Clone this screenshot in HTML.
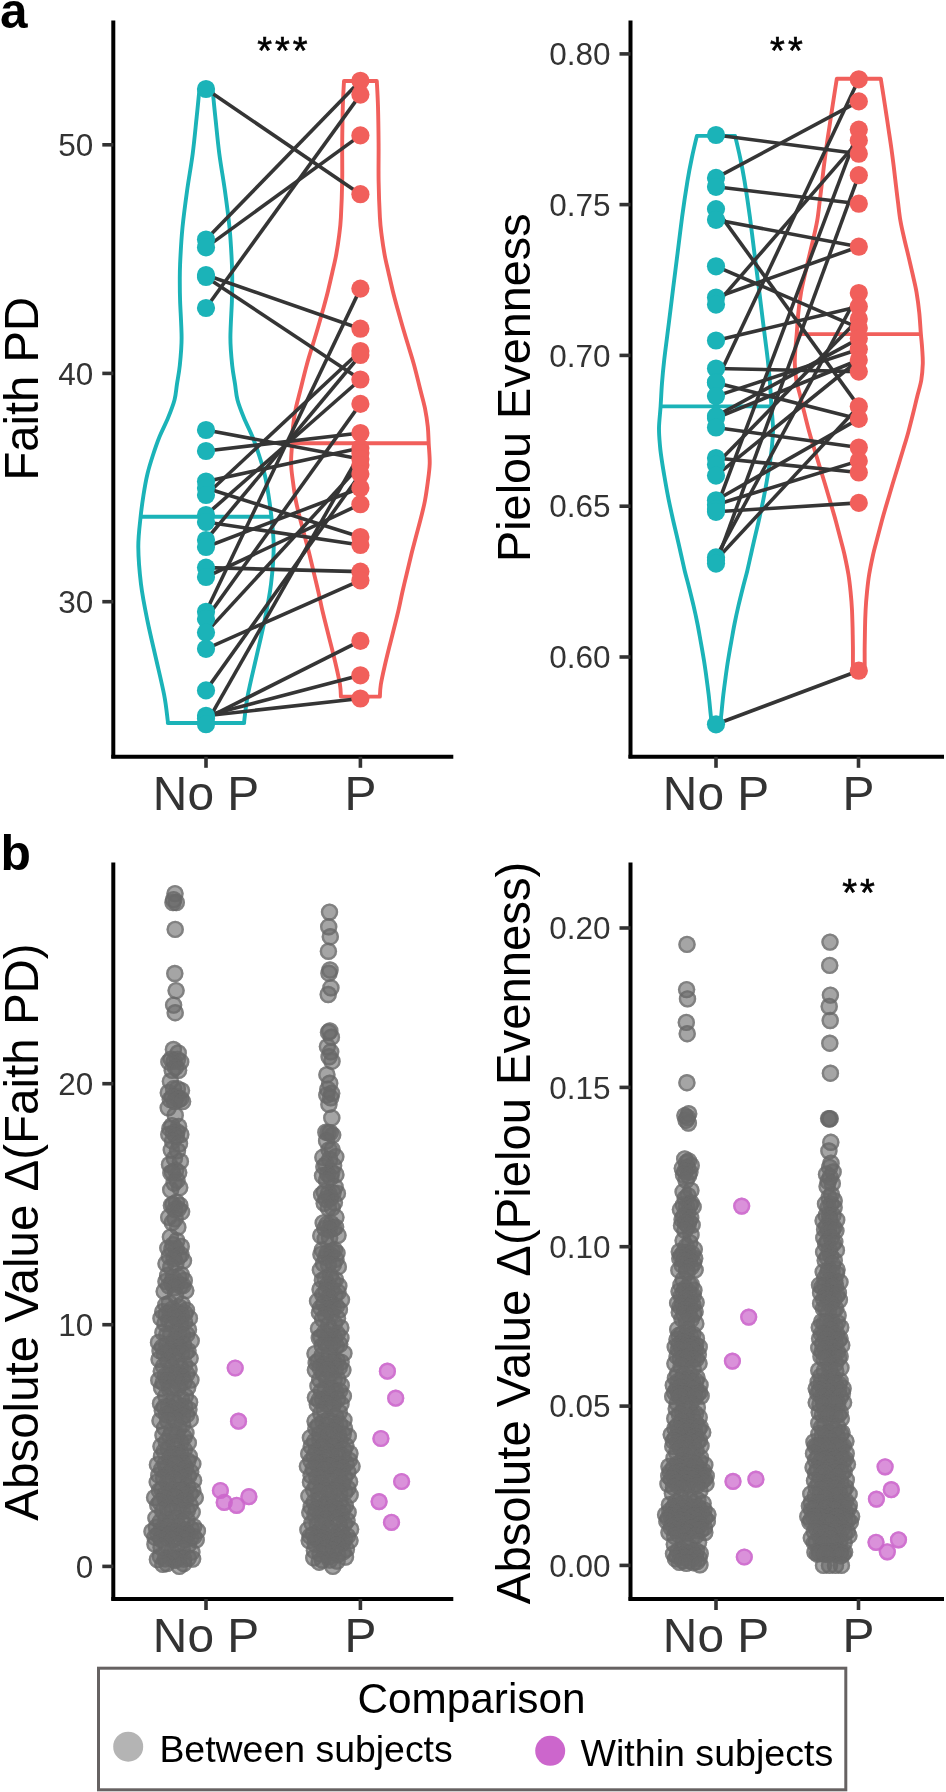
<!DOCTYPE html>
<html><head><meta charset="utf-8"><style>
html,body{margin:0;padding:0;background:#fff;}
svg{display:block;will-change:transform;}
</style></head><body>
<svg width="946" height="1792" viewBox="0 0 946 1792" font-family="Liberation Sans, sans-serif">
<rect width="946" height="1792" fill="#fff"/>
<line x1="113.3" y1="20.5" x2="113.3" y2="758.3" stroke="#000" stroke-width="4"/>
<line x1="111.3" y1="756.8" x2="453.3" y2="756.8" stroke="#000" stroke-width="4"/>
<line x1="102.3" y1="144.8" x2="113.3" y2="144.8" stroke="#333" stroke-width="3.6"/>
<text x="93.3" y="156" text-anchor="end" font-size="31.5" fill="#333">50</text>
<line x1="102.3" y1="373.4" x2="113.3" y2="373.4" stroke="#333" stroke-width="3.6"/>
<text x="93.3" y="384.6" text-anchor="end" font-size="31.5" fill="#333">40</text>
<line x1="102.3" y1="601.7" x2="113.3" y2="601.7" stroke="#333" stroke-width="3.6"/>
<text x="93.3" y="612.9" text-anchor="end" font-size="31.5" fill="#333">30</text>
<line x1="206" y1="756.8" x2="206" y2="767.8" stroke="#333" stroke-width="3.6"/>
<text x="206" y="809.8" text-anchor="middle" font-size="47.8" fill="#333">No P</text>
<line x1="360.4" y1="756.8" x2="360.4" y2="767.8" stroke="#333" stroke-width="3.6"/>
<text x="360.4" y="809.8" text-anchor="middle" font-size="47.8" fill="#333">P</text>
<line x1="630.5" y1="20.5" x2="630.5" y2="758.3" stroke="#000" stroke-width="4"/>
<line x1="628.5" y1="756.8" x2="944" y2="756.8" stroke="#000" stroke-width="4"/>
<line x1="619.5" y1="53.9" x2="630.5" y2="53.9" stroke="#333" stroke-width="3.6"/>
<text x="610.5" y="65.1" text-anchor="end" font-size="31.5" fill="#333">0.80</text>
<line x1="619.5" y1="204.6" x2="630.5" y2="204.6" stroke="#333" stroke-width="3.6"/>
<text x="610.5" y="215.8" text-anchor="end" font-size="31.5" fill="#333">0.75</text>
<line x1="619.5" y1="355.4" x2="630.5" y2="355.4" stroke="#333" stroke-width="3.6"/>
<text x="610.5" y="366.6" text-anchor="end" font-size="31.5" fill="#333">0.70</text>
<line x1="619.5" y1="506.2" x2="630.5" y2="506.2" stroke="#333" stroke-width="3.6"/>
<text x="610.5" y="517.4" text-anchor="end" font-size="31.5" fill="#333">0.65</text>
<line x1="619.5" y1="657" x2="630.5" y2="657" stroke="#333" stroke-width="3.6"/>
<text x="610.5" y="668.2" text-anchor="end" font-size="31.5" fill="#333">0.60</text>
<line x1="716" y1="756.8" x2="716" y2="767.8" stroke="#333" stroke-width="3.6"/>
<text x="716" y="809.8" text-anchor="middle" font-size="47.8" fill="#333">No P</text>
<line x1="858.5" y1="756.8" x2="858.5" y2="767.8" stroke="#333" stroke-width="3.6"/>
<text x="858.5" y="809.8" text-anchor="middle" font-size="47.8" fill="#333">P</text>
<line x1="113.3" y1="862.6" x2="113.3" y2="1600.5" stroke="#000" stroke-width="4"/>
<line x1="111.3" y1="1599" x2="453.3" y2="1599" stroke="#000" stroke-width="4"/>
<line x1="102.3" y1="1083.7" x2="113.3" y2="1083.7" stroke="#333" stroke-width="3.6"/>
<text x="93.3" y="1094.9" text-anchor="end" font-size="31.5" fill="#333">20</text>
<line x1="102.3" y1="1324.7" x2="113.3" y2="1324.7" stroke="#333" stroke-width="3.6"/>
<text x="93.3" y="1335.9" text-anchor="end" font-size="31.5" fill="#333">10</text>
<line x1="102.3" y1="1566.4" x2="113.3" y2="1566.4" stroke="#333" stroke-width="3.6"/>
<text x="93.3" y="1577.6" text-anchor="end" font-size="31.5" fill="#333">0</text>
<line x1="206" y1="1599" x2="206" y2="1610" stroke="#333" stroke-width="3.6"/>
<text x="206" y="1652" text-anchor="middle" font-size="47.8" fill="#333">No P</text>
<line x1="360.4" y1="1599" x2="360.4" y2="1610" stroke="#333" stroke-width="3.6"/>
<text x="360.4" y="1652" text-anchor="middle" font-size="47.8" fill="#333">P</text>
<line x1="630.5" y1="862.6" x2="630.5" y2="1600.5" stroke="#000" stroke-width="4"/>
<line x1="628.5" y1="1599" x2="944" y2="1599" stroke="#000" stroke-width="4"/>
<line x1="619.5" y1="928" x2="630.5" y2="928" stroke="#333" stroke-width="3.6"/>
<text x="610.5" y="939.2" text-anchor="end" font-size="31.5" fill="#333">0.20</text>
<line x1="619.5" y1="1087.4" x2="630.5" y2="1087.4" stroke="#333" stroke-width="3.6"/>
<text x="610.5" y="1098.6" text-anchor="end" font-size="31.5" fill="#333">0.15</text>
<line x1="619.5" y1="1246.7" x2="630.5" y2="1246.7" stroke="#333" stroke-width="3.6"/>
<text x="610.5" y="1257.9" text-anchor="end" font-size="31.5" fill="#333">0.10</text>
<line x1="619.5" y1="1406.1" x2="630.5" y2="1406.1" stroke="#333" stroke-width="3.6"/>
<text x="610.5" y="1417.3" text-anchor="end" font-size="31.5" fill="#333">0.05</text>
<line x1="619.5" y1="1565.4" x2="630.5" y2="1565.4" stroke="#333" stroke-width="3.6"/>
<text x="610.5" y="1576.6" text-anchor="end" font-size="31.5" fill="#333">0.00</text>
<line x1="716" y1="1599" x2="716" y2="1610" stroke="#333" stroke-width="3.6"/>
<text x="716" y="1652" text-anchor="middle" font-size="47.8" fill="#333">No P</text>
<line x1="858.5" y1="1599" x2="858.5" y2="1610" stroke="#333" stroke-width="3.6"/>
<text x="858.5" y="1652" text-anchor="middle" font-size="47.8" fill="#333">P</text>
<text transform="translate(37.9,388.8) rotate(-90)" text-anchor="middle" font-size="47.2" fill="#000">Faith PD</text>
<text transform="translate(529.9,387.7) rotate(-90)" text-anchor="middle" font-size="46.8" fill="#000">Pielou Evenness</text>
<text transform="translate(38.2,1232) rotate(-90)" text-anchor="middle" font-size="47.5" fill="#000">Absolute Value &#916;(Faith PD)</text>
<text transform="translate(529.9,1232.9) rotate(-90)" text-anchor="middle" font-size="47.25" fill="#000">Absolute Value &#916;(Pielou Evenness)</text>
<text x="0" y="28.4" font-size="49.5" font-weight="bold" fill="#000">a</text>
<text x="0.5" y="869.8" font-size="49.8" font-weight="bold" fill="#000">b</text>
<text x="257.3" y="63.8" font-size="38" fill="#000" stroke="#000" stroke-width="0.6">*</text>
<text x="275.1" y="63.8" font-size="38" fill="#000" stroke="#000" stroke-width="0.6">*</text>
<text x="292.8" y="63.8" font-size="38" fill="#000" stroke="#000" stroke-width="0.6">*</text>
<text x="770.1" y="63.8" font-size="38" fill="#000" stroke="#000" stroke-width="0.6">*</text>
<text x="788" y="63.8" font-size="38" fill="#000" stroke="#000" stroke-width="0.6">*</text>
<text x="842.2" y="906.1" font-size="38" fill="#000" stroke="#000" stroke-width="0.6">*</text>
<text x="860.1" y="906.1" font-size="38" fill="#000" stroke="#000" stroke-width="0.6">*</text>
<path d="M199.5,90 C199.4,90.5 199.6,88.4 199.1,92.9 C198.6,97.4 197.8,106.7 196.7,116.8 C195.6,126.9 194.3,141.4 192.7,153.7 C191.1,166 188.8,178.2 187.1,190.5 C185.4,202.8 183.7,215.1 182.5,227.4 C181.3,239.7 180.5,255 180.1,264.2 C179.7,273.4 179.8,276.5 179.8,282.6 C179.8,288.7 179.8,291.8 180.1,301 C180.4,310.2 181.6,327.1 181.6,337.8 C181.6,348.5 180.6,357.7 179.8,365.4 C179,373.1 177.9,378.1 177,383.9 C176.1,389.7 176,394.3 174.5,400 C173,405.7 170.5,411.9 168,418 C165.5,424.1 162,430.6 159.5,436.8 C157,443 155,448.9 153,455 C151,461.1 149.1,467 147.5,473.7 C145.9,480.4 144.6,487.9 143.5,495 C142.4,502.1 141.6,507.3 140.7,516 C139.8,524.7 138.2,535.9 138.3,547.3 C138.4,558.7 139.5,571.9 141,584.2 C142.5,596.5 145,608.7 147.5,621 C150,633.3 153,645.5 155.8,657.8 C158.6,670.1 162.1,684.4 164.1,694.7 C166.1,705 167,714.8 167.6,719.5 C168.2,724.2 167.8,722.4 167.8,723 L244.2,723 C244.2,722.4 243.8,724.2 244.4,719.5 C245,714.8 245.9,705 247.9,694.7 C249.9,684.4 253.4,670.1 256.2,657.8 C259,645.5 262,633.3 264.5,621 C267,608.7 269.5,596.5 271,584.2 C272.5,571.9 273.6,558.7 273.7,547.3 C273.8,535.9 272.2,524.7 271.3,516 C270.4,507.3 269.6,502.1 268.5,495 C267.4,487.9 266.1,480.4 264.5,473.7 C262.9,467 261,461.1 259,455 C257,448.9 255,443 252.5,436.8 C250,430.6 246.5,424.1 244,418 C241.5,411.9 239,405.7 237.5,400 C236,394.3 235.9,389.7 235,383.9 C234.1,378.1 233,373.1 232.2,365.4 C231.4,357.7 230.4,348.5 230.4,337.8 C230.4,327.1 231.6,310.2 231.9,301 C232.2,291.8 232.2,288.7 232.2,282.6 C232.2,276.5 232.3,273.4 231.9,264.2 C231.5,255 230.7,239.7 229.5,227.4 C228.3,215.1 226.6,202.8 224.9,190.5 C223.2,178.2 220.9,166 219.3,153.7 C217.7,141.4 216.4,126.9 215.3,116.8 C214.2,106.7 213.4,97.4 212.9,92.9 C212.4,88.4 212.6,90.5 212.5,90 Z" fill="none" stroke="#1bb3b8" stroke-width="3.9" stroke-linejoin="round"/>
<line x1="140.6" y1="516.7" x2="271.4" y2="516.7" stroke="#1bb3b8" stroke-width="3.9"/>
<path d="M344,81 C343.8,85.3 343.1,96.3 342.8,106.8 C342.5,117.2 342.3,131.4 342.2,143.7 C342.1,156 342.4,168.2 342.2,180.5 C342,192.8 341.4,208.2 340.9,217.3 C340.4,226.4 340,228.8 339.2,235 C338.4,241.2 337.4,248 336.3,254.2 C335.2,260.4 333.8,265.9 332.4,272 C331,278.1 329.5,284.8 328,291 C326.5,297.2 324.9,302.9 323.2,309 C321.5,315.1 319.7,321.6 317.9,327.8 C316.1,334 314.2,339.9 312.4,346 C310.5,352.1 308.8,357.4 306.8,364.7 C304.8,372 302.2,382.7 300.4,390 C298.6,397.3 297,402.3 295.8,408.4 C294.6,414.5 293.6,421 293,426.8 C292.4,432.6 292.4,437.2 292.1,443.4 C291.8,449.5 290.9,457.3 291.1,463.7 C291.2,470.1 292.2,475.9 293,482 C293.8,488.1 294.6,494.5 295.8,500.5 C296.9,506.5 298.4,511.9 299.9,518 C301.4,524.1 303.4,531.1 305,537.3 C306.6,543.5 308.1,548.9 309.6,555 C311.1,561.1 312.7,568 314.2,574.2 C315.7,580.4 317,585.9 318.4,592 C319.8,598.1 321,604.7 322.5,611 C324,617.3 325.7,623.9 327.2,630 C328.7,636.1 330.2,641.8 331.7,647.8 C333.2,653.8 334.7,659.9 336.1,666 C337.5,672.1 339.2,679.6 340,684.7 C340.8,689.8 340.8,694.6 340.9,696.6 L379.9,696.6 C380,694.6 380,689.8 380.8,684.7 C381.6,679.6 383.3,672.1 384.7,666 C386.1,659.9 387.6,653.8 389.1,647.8 C390.6,641.8 392.1,636.1 393.6,630 C395.1,623.9 396.8,617.3 398.3,611 C399.8,604.7 401,598.1 402.4,592 C403.8,585.9 405.1,580.4 406.6,574.2 C408.1,568 409.7,561.1 411.2,555 C412.7,548.9 414.2,543.5 415.8,537.3 C417.4,531.1 419.4,524.1 420.9,518 C422.4,511.9 423.9,506.5 425,500.5 C426.1,494.5 427,488.1 427.8,482 C428.6,475.9 429.5,470.1 429.7,463.7 C429.9,457.3 429,449.5 428.7,443.4 C428.4,437.2 428.4,432.6 427.8,426.8 C427.2,421 426.2,414.5 425,408.4 C423.8,402.3 422.2,397.3 420.4,390 C418.6,382.7 416,372 414,364.7 C412,357.4 410.2,352.1 408.4,346 C406.5,339.9 404.7,334 402.9,327.8 C401.1,321.6 399.3,315.1 397.6,309 C395.9,302.9 394.3,297.2 392.8,291 C391.3,284.8 389.8,278.1 388.4,272 C387,265.9 385.6,260.4 384.5,254.2 C383.4,248 382.4,241.2 381.6,235 C380.8,228.8 380.4,226.4 379.9,217.3 C379.4,208.2 378.8,192.8 378.6,180.5 C378.4,168.2 378.7,156 378.6,143.7 C378.5,131.4 378.3,117.2 378,106.8 C377.7,96.3 377,85.3 376.8,81 Z" fill="none" stroke="#f15f5b" stroke-width="3.9" stroke-linejoin="round"/>
<line x1="292.1" y1="443.2" x2="428.7" y2="443.2" stroke="#f15f5b" stroke-width="3.9"/>
<line x1="206.0" y1="89" x2="360.4" y2="194.2" stroke="#353535" stroke-width="3.6"/>
<line x1="206.0" y1="239.5" x2="360.4" y2="80.8" stroke="#353535" stroke-width="3.6"/>
<line x1="206.0" y1="247.4" x2="360.4" y2="135.4" stroke="#353535" stroke-width="3.6"/>
<line x1="206.0" y1="275" x2="360.4" y2="328.7" stroke="#353535" stroke-width="3.6"/>
<line x1="206.0" y1="277" x2="360.4" y2="379.5" stroke="#353535" stroke-width="3.6"/>
<line x1="206.0" y1="308" x2="360.4" y2="94.6" stroke="#353535" stroke-width="3.6"/>
<line x1="206.0" y1="430" x2="360.4" y2="459" stroke="#353535" stroke-width="3.6"/>
<line x1="206.0" y1="451" x2="360.4" y2="433" stroke="#353535" stroke-width="3.6"/>
<line x1="206.0" y1="481.5" x2="360.4" y2="448" stroke="#353535" stroke-width="3.6"/>
<line x1="206.0" y1="495" x2="360.4" y2="351" stroke="#353535" stroke-width="3.6"/>
<line x1="206.0" y1="540" x2="360.4" y2="355" stroke="#353535" stroke-width="3.6"/>
<line x1="206.0" y1="515" x2="360.4" y2="379.5" stroke="#353535" stroke-width="3.6"/>
<line x1="206.0" y1="618.9" x2="360.4" y2="403.9" stroke="#353535" stroke-width="3.6"/>
<line x1="206.0" y1="611.8" x2="360.4" y2="288.6" stroke="#353535" stroke-width="3.6"/>
<line x1="206.0" y1="724.2" x2="360.4" y2="453" stroke="#353535" stroke-width="3.6"/>
<line x1="206.0" y1="690.4" x2="360.4" y2="474" stroke="#353535" stroke-width="3.6"/>
<line x1="206.0" y1="547" x2="360.4" y2="488" stroke="#353535" stroke-width="3.6"/>
<line x1="206.0" y1="577" x2="360.4" y2="504.2" stroke="#353535" stroke-width="3.6"/>
<line x1="206.0" y1="488" x2="360.4" y2="537" stroke="#353535" stroke-width="3.6"/>
<line x1="206.0" y1="522" x2="360.4" y2="545" stroke="#353535" stroke-width="3.6"/>
<line x1="206.0" y1="567.6" x2="360.4" y2="571.6" stroke="#353535" stroke-width="3.6"/>
<line x1="206.0" y1="648.8" x2="360.4" y2="580.4" stroke="#353535" stroke-width="3.6"/>
<line x1="206.0" y1="718.5" x2="360.4" y2="640.9" stroke="#353535" stroke-width="3.6"/>
<line x1="206.0" y1="715.8" x2="360.4" y2="675.3" stroke="#353535" stroke-width="3.6"/>
<line x1="206.0" y1="715.8" x2="360.4" y2="698.5" stroke="#353535" stroke-width="3.6"/>
<line x1="206.0" y1="632.6" x2="360.4" y2="465" stroke="#353535" stroke-width="3.6"/>
<circle cx="206.0" cy="89" r="9.1" fill="#1bb3b8"/>
<circle cx="206.0" cy="239.5" r="9.1" fill="#1bb3b8"/>
<circle cx="206.0" cy="247.4" r="9.1" fill="#1bb3b8"/>
<circle cx="206.0" cy="275" r="9.1" fill="#1bb3b8"/>
<circle cx="206.0" cy="277" r="9.1" fill="#1bb3b8"/>
<circle cx="206.0" cy="308" r="9.1" fill="#1bb3b8"/>
<circle cx="206.0" cy="430" r="9.1" fill="#1bb3b8"/>
<circle cx="206.0" cy="451" r="9.1" fill="#1bb3b8"/>
<circle cx="206.0" cy="481.5" r="9.1" fill="#1bb3b8"/>
<circle cx="206.0" cy="488" r="9.1" fill="#1bb3b8"/>
<circle cx="206.0" cy="495" r="9.1" fill="#1bb3b8"/>
<circle cx="206.0" cy="515" r="9.1" fill="#1bb3b8"/>
<circle cx="206.0" cy="522" r="9.1" fill="#1bb3b8"/>
<circle cx="206.0" cy="540" r="9.1" fill="#1bb3b8"/>
<circle cx="206.0" cy="547" r="9.1" fill="#1bb3b8"/>
<circle cx="206.0" cy="567.6" r="9.1" fill="#1bb3b8"/>
<circle cx="206.0" cy="577" r="9.1" fill="#1bb3b8"/>
<circle cx="206.0" cy="611.8" r="9.1" fill="#1bb3b8"/>
<circle cx="206.0" cy="618.9" r="9.1" fill="#1bb3b8"/>
<circle cx="206.0" cy="632.6" r="9.1" fill="#1bb3b8"/>
<circle cx="206.0" cy="648.8" r="9.1" fill="#1bb3b8"/>
<circle cx="206.0" cy="690.4" r="9.1" fill="#1bb3b8"/>
<circle cx="206.0" cy="715.8" r="9.1" fill="#1bb3b8"/>
<circle cx="206.0" cy="718.5" r="9.1" fill="#1bb3b8"/>
<circle cx="206.0" cy="724.2" r="9.1" fill="#1bb3b8"/>
<circle cx="360.4" cy="80.8" r="9.1" fill="#f15f5b"/>
<circle cx="360.4" cy="94.6" r="9.1" fill="#f15f5b"/>
<circle cx="360.4" cy="135.4" r="9.1" fill="#f15f5b"/>
<circle cx="360.4" cy="194.2" r="9.1" fill="#f15f5b"/>
<circle cx="360.4" cy="288.6" r="9.1" fill="#f15f5b"/>
<circle cx="360.4" cy="328.7" r="9.1" fill="#f15f5b"/>
<circle cx="360.4" cy="351" r="9.1" fill="#f15f5b"/>
<circle cx="360.4" cy="355" r="9.1" fill="#f15f5b"/>
<circle cx="360.4" cy="379.5" r="9.1" fill="#f15f5b"/>
<circle cx="360.4" cy="403.9" r="9.1" fill="#f15f5b"/>
<circle cx="360.4" cy="433" r="9.1" fill="#f15f5b"/>
<circle cx="360.4" cy="448" r="9.1" fill="#f15f5b"/>
<circle cx="360.4" cy="453" r="9.1" fill="#f15f5b"/>
<circle cx="360.4" cy="459" r="9.1" fill="#f15f5b"/>
<circle cx="360.4" cy="465" r="9.1" fill="#f15f5b"/>
<circle cx="360.4" cy="474" r="9.1" fill="#f15f5b"/>
<circle cx="360.4" cy="488" r="9.1" fill="#f15f5b"/>
<circle cx="360.4" cy="504.2" r="9.1" fill="#f15f5b"/>
<circle cx="360.4" cy="537" r="9.1" fill="#f15f5b"/>
<circle cx="360.4" cy="545" r="9.1" fill="#f15f5b"/>
<circle cx="360.4" cy="571.6" r="9.1" fill="#f15f5b"/>
<circle cx="360.4" cy="580.4" r="9.1" fill="#f15f5b"/>
<circle cx="360.4" cy="640.9" r="9.1" fill="#f15f5b"/>
<circle cx="360.4" cy="675.3" r="9.1" fill="#f15f5b"/>
<circle cx="360.4" cy="698.5" r="9.1" fill="#f15f5b"/>
<path d="M696.9,135.9 C696,139.6 693.4,150.4 691.8,158 C690.2,165.6 689,171.6 687.4,181.4 C685.8,191.2 683.7,205.2 682.1,217.1 C680.5,229 679.1,241 677.6,252.9 C676.1,264.8 674.6,276.7 673.1,288.6 C671.6,300.5 670.2,312.4 668.7,324.3 C667.2,336.2 665.3,350.2 664.2,360 C663.1,369.8 662.6,375.3 662,383 C661.4,390.7 661.1,398.9 660.6,406.4 C660.1,413.9 659.1,421.4 659,428 C658.9,434.6 659.5,440.1 660,446 C660.5,451.9 661.4,457.8 662.3,463.6 C663.2,469.4 664.2,475.1 665.2,481 C666.2,486.9 667.4,493.3 668.6,499.3 C669.8,505.3 671.1,511.1 672.4,517 C673.7,523 675.2,529 676.6,535 C678,541 679.4,547 680.7,553 C682.1,559 683.3,564.9 684.7,570.7 C686.1,576.5 687.7,582 689.2,588 C690.7,594 692.3,600.4 693.7,606.4 C695.1,612.4 696.3,618 697.5,624 C698.7,630 699.7,636.1 700.8,642.1 C701.9,648.1 702.9,654 703.9,660 C704.9,666 705.7,672.1 706.5,677.9 C707.3,683.7 708,689 708.7,695 C709.4,701 710.1,708.7 710.6,713.6 C711.1,718.5 711.6,722.5 711.8,724.3 L720.2,724.3 C720.4,722.5 720.9,718.5 721.4,713.6 C721.9,708.7 722.6,701 723.3,695 C724,689 724.7,683.7 725.5,677.9 C726.3,672.1 727.1,666 728.1,660 C729.1,654 730.1,648.1 731.2,642.1 C732.3,636.1 733.3,630 734.5,624 C735.7,618 736.9,612.4 738.3,606.4 C739.7,600.4 741.3,594 742.8,588 C744.3,582 745.9,576.5 747.3,570.7 C748.7,564.9 749.9,559 751.3,553 C752.6,547 754,541 755.4,535 C756.8,529 758.3,523 759.6,517 C760.9,511.1 762.2,505.3 763.4,499.3 C764.6,493.3 765.8,486.9 766.8,481 C767.8,475.1 768.8,469.4 769.7,463.6 C770.6,457.8 771.5,451.9 772,446 C772.5,440.1 773.1,434.6 773,428 C772.9,421.4 771.9,413.9 771.4,406.4 C770.9,398.9 770.6,390.7 770,383 C769.4,375.3 768.9,369.8 767.8,360 C766.7,350.2 764.8,336.2 763.3,324.3 C761.8,312.4 760.4,300.5 758.9,288.6 C757.4,276.7 755.9,264.8 754.4,252.9 C752.9,241 751.5,229 749.9,217.1 C748.3,205.2 746.2,191.2 744.6,181.4 C743,171.6 741.8,165.6 740.2,158 C738.6,150.4 736,139.6 735.1,135.9 Z" fill="none" stroke="#1bb3b8" stroke-width="3.9" stroke-linejoin="round"/>
<line x1="660.6" y1="406.4" x2="771.4" y2="406.4" stroke="#1bb3b8" stroke-width="3.9"/>
<path d="M836.8,78.8 C836.3,81.7 835,90.2 834.1,96 C833.2,101.8 832.3,107.8 831.4,113.6 C830.5,119.4 829.7,125 828.8,131 C827.9,136.9 826.9,143.3 826.1,149.3 C825.3,155.3 824.5,161.1 823.8,167 C823.1,172.9 822.4,179 821.7,185 C821,191 820.2,197.1 819.5,203 C818.8,208.9 818.2,214.9 817.2,220.7 C816.2,226.5 814.9,232.1 813.5,238 C812.1,243.9 810.5,250.4 809.1,256.4 C807.7,262.4 806.3,268.1 805,274 C803.7,279.9 802.2,285.6 801.1,292.1 C800,298.6 799,306 798.3,313 C797.6,320 797.2,328.1 796.7,334.1 C796.2,340.1 795.7,344.1 795.4,349 C795.1,353.9 794.6,358.4 794.8,363.6 C794.9,368.8 795.4,374.6 796.3,380 C797.2,385.4 798.8,390.2 800.2,395.7 C801.5,401.2 802.9,407.1 804.4,413 C805.9,418.9 807.4,425.4 809.1,431.4 C810.7,437.4 812.5,443.1 814.3,449 C816.1,454.9 818,461.1 819.8,467.1 C821.6,473.1 823.5,479 825.3,485 C827.1,491 828.8,496.9 830.6,502.9 C832.3,508.9 834.2,515 835.8,521 C837.4,527 838.9,532.8 840.4,538.6 C841.9,544.4 843.5,550 844.8,556 C846.1,562 847.4,568.3 848.4,574.3 C849.4,580.3 850,586 850.6,592 C851.2,598 851.7,604 852,610 C852.3,616 852.4,622 852.6,628 C852.7,634 852.8,639.4 852.9,645.7 C853,652 852.9,662.6 852.9,666 L864.7,666 C864.7,662.6 864.6,652 864.7,645.7 C864.8,639.4 864.9,634 865,628 C865.1,622 865.3,616 865.6,610 C865.9,604 866.4,598 867,592 C867.6,586 868.2,580.3 869.2,574.3 C870.2,568.3 871.5,562 872.8,556 C874.1,550 875.7,544.4 877.2,538.6 C878.7,532.8 880.2,527 881.8,521 C883.4,515 885.2,508.9 887,502.9 C888.8,496.9 890.5,491 892.3,485 C894.1,479 896,473.1 897.8,467.1 C899.6,461.1 901.5,454.9 903.3,449 C905.1,443.1 906.9,437.4 908.5,431.4 C910.1,425.4 911.7,418.9 913.2,413 C914.7,407.1 916,401.2 917.4,395.7 C918.8,390.2 920.4,385.4 921.3,380 C922.2,374.6 922.6,368.8 922.8,363.6 C922.9,358.4 922.5,353.9 922.2,349 C921.9,344.1 921.4,340.1 920.9,334.1 C920.4,328.1 920,320 919.3,313 C918.6,306 917.6,298.6 916.5,292.1 C915.4,285.6 913.9,279.9 912.6,274 C911.3,268.1 909.9,262.4 908.5,256.4 C907.1,250.4 905.4,243.9 904.1,238 C902.7,232.1 901.4,226.5 900.4,220.7 C899.4,214.9 898.8,208.9 898.1,203 C897.3,197.1 896.6,191 895.9,185 C895.2,179 894.5,172.9 893.8,167 C893.1,161.1 892.3,155.3 891.5,149.3 C890.7,143.3 889.7,136.9 888.8,131 C887.9,125 887.1,119.4 886.2,113.6 C885.3,107.8 884.4,101.8 883.5,96 C882.6,90.2 881.2,81.7 880.8,78.8 Z" fill="none" stroke="#f15f5b" stroke-width="3.9" stroke-linejoin="round"/>
<line x1="796.7" y1="334.1" x2="920.9" y2="334.1" stroke="#f15f5b" stroke-width="3.9"/>
<line x1="716.0" y1="135" x2="858.8" y2="153.7" stroke="#353535" stroke-width="3.6"/>
<line x1="716.0" y1="177.9" x2="858.8" y2="101.4" stroke="#353535" stroke-width="3.6"/>
<line x1="716.0" y1="186.8" x2="858.8" y2="203.7" stroke="#353535" stroke-width="3.6"/>
<line x1="716.0" y1="219.8" x2="858.8" y2="246.7" stroke="#353535" stroke-width="3.6"/>
<line x1="716.0" y1="297.5" x2="858.8" y2="246.7" stroke="#353535" stroke-width="3.6"/>
<line x1="716.0" y1="304.6" x2="858.8" y2="140.4" stroke="#353535" stroke-width="3.6"/>
<line x1="716.0" y1="382.3" x2="858.8" y2="79.3" stroke="#353535" stroke-width="3.6"/>
<line x1="716.0" y1="209.1" x2="858.8" y2="406.4" stroke="#353535" stroke-width="3.6"/>
<line x1="716.0" y1="266.3" x2="858.8" y2="327.9" stroke="#353535" stroke-width="3.6"/>
<line x1="716.0" y1="340.5" x2="858.8" y2="306.4" stroke="#353535" stroke-width="3.6"/>
<line x1="716.0" y1="368.5" x2="858.8" y2="371.6" stroke="#353535" stroke-width="3.6"/>
<line x1="716.0" y1="724.3" x2="858.8" y2="670.7" stroke="#353535" stroke-width="3.6"/>
<line x1="716.0" y1="563.6" x2="858.8" y2="175.2" stroke="#353535" stroke-width="3.6"/>
<line x1="716.0" y1="511.8" x2="858.8" y2="502.9" stroke="#353535" stroke-width="3.6"/>
<line x1="716.0" y1="500.3" x2="858.8" y2="418.9" stroke="#353535" stroke-width="3.6"/>
<line x1="716.0" y1="504.7" x2="858.8" y2="460.9" stroke="#353535" stroke-width="3.6"/>
<line x1="716.0" y1="458" x2="858.8" y2="472.5" stroke="#353535" stroke-width="3.6"/>
<line x1="716.0" y1="427.5" x2="858.8" y2="447.5" stroke="#353535" stroke-width="3.6"/>
<line x1="716.0" y1="396.1" x2="858.8" y2="349.3" stroke="#353535" stroke-width="3.6"/>
<line x1="716.0" y1="416.1" x2="858.8" y2="338.6" stroke="#353535" stroke-width="3.6"/>
<line x1="716.0" y1="418" x2="858.8" y2="360" stroke="#353535" stroke-width="3.6"/>
<line x1="716.0" y1="475.6" x2="858.8" y2="360" stroke="#353535" stroke-width="3.6"/>
<line x1="716.0" y1="557.4" x2="858.8" y2="293" stroke="#353535" stroke-width="3.6"/>
<line x1="716.0" y1="382.8" x2="858.8" y2="418.9" stroke="#353535" stroke-width="3.6"/>
<line x1="716.0" y1="509" x2="858.8" y2="129.6" stroke="#353535" stroke-width="3.6"/>
<line x1="716.0" y1="560" x2="858.8" y2="406.4" stroke="#353535" stroke-width="3.6"/>
<line x1="716.0" y1="464.6" x2="858.8" y2="318.9" stroke="#353535" stroke-width="3.6"/>
<circle cx="716.0" cy="135" r="9.1" fill="#1bb3b8"/>
<circle cx="716.0" cy="177.9" r="9.1" fill="#1bb3b8"/>
<circle cx="716.0" cy="186.8" r="9.1" fill="#1bb3b8"/>
<circle cx="716.0" cy="209.1" r="9.1" fill="#1bb3b8"/>
<circle cx="716.0" cy="219.8" r="9.1" fill="#1bb3b8"/>
<circle cx="716.0" cy="266.3" r="9.1" fill="#1bb3b8"/>
<circle cx="716.0" cy="297.5" r="9.1" fill="#1bb3b8"/>
<circle cx="716.0" cy="304.6" r="9.1" fill="#1bb3b8"/>
<circle cx="716.0" cy="340.5" r="9.1" fill="#1bb3b8"/>
<circle cx="716.0" cy="368.5" r="9.1" fill="#1bb3b8"/>
<circle cx="716.0" cy="382.3" r="9.1" fill="#1bb3b8"/>
<circle cx="716.0" cy="382.8" r="9.1" fill="#1bb3b8"/>
<circle cx="716.0" cy="396.1" r="9.1" fill="#1bb3b8"/>
<circle cx="716.0" cy="416.1" r="9.1" fill="#1bb3b8"/>
<circle cx="716.0" cy="418" r="9.1" fill="#1bb3b8"/>
<circle cx="716.0" cy="427.5" r="9.1" fill="#1bb3b8"/>
<circle cx="716.0" cy="458" r="9.1" fill="#1bb3b8"/>
<circle cx="716.0" cy="464.6" r="9.1" fill="#1bb3b8"/>
<circle cx="716.0" cy="475.6" r="9.1" fill="#1bb3b8"/>
<circle cx="716.0" cy="500.3" r="9.1" fill="#1bb3b8"/>
<circle cx="716.0" cy="504.7" r="9.1" fill="#1bb3b8"/>
<circle cx="716.0" cy="509" r="9.1" fill="#1bb3b8"/>
<circle cx="716.0" cy="511.8" r="9.1" fill="#1bb3b8"/>
<circle cx="716.0" cy="557.4" r="9.1" fill="#1bb3b8"/>
<circle cx="716.0" cy="560" r="9.1" fill="#1bb3b8"/>
<circle cx="716.0" cy="563.6" r="9.1" fill="#1bb3b8"/>
<circle cx="716.0" cy="724.3" r="9.1" fill="#1bb3b8"/>
<circle cx="858.8" cy="79.3" r="9.1" fill="#f15f5b"/>
<circle cx="858.8" cy="101.4" r="9.1" fill="#f15f5b"/>
<circle cx="858.8" cy="129.6" r="9.1" fill="#f15f5b"/>
<circle cx="858.8" cy="140.4" r="9.1" fill="#f15f5b"/>
<circle cx="858.8" cy="153.7" r="9.1" fill="#f15f5b"/>
<circle cx="858.8" cy="175.2" r="9.1" fill="#f15f5b"/>
<circle cx="858.8" cy="203.7" r="9.1" fill="#f15f5b"/>
<circle cx="858.8" cy="246.7" r="9.1" fill="#f15f5b"/>
<circle cx="858.8" cy="293" r="9.1" fill="#f15f5b"/>
<circle cx="858.8" cy="306.4" r="9.1" fill="#f15f5b"/>
<circle cx="858.8" cy="318.9" r="9.1" fill="#f15f5b"/>
<circle cx="858.8" cy="327.9" r="9.1" fill="#f15f5b"/>
<circle cx="858.8" cy="338.6" r="9.1" fill="#f15f5b"/>
<circle cx="858.8" cy="349.3" r="9.1" fill="#f15f5b"/>
<circle cx="858.8" cy="360" r="9.1" fill="#f15f5b"/>
<circle cx="858.8" cy="371.6" r="9.1" fill="#f15f5b"/>
<circle cx="858.8" cy="406.4" r="9.1" fill="#f15f5b"/>
<circle cx="858.8" cy="418.9" r="9.1" fill="#f15f5b"/>
<circle cx="858.8" cy="447.5" r="9.1" fill="#f15f5b"/>
<circle cx="858.8" cy="460.9" r="9.1" fill="#f15f5b"/>
<circle cx="858.8" cy="472.5" r="9.1" fill="#f15f5b"/>
<circle cx="858.8" cy="502.9" r="9.1" fill="#f15f5b"/>
<circle cx="858.8" cy="670.7" r="9.1" fill="#f15f5b"/>
<defs><g id="gp"><circle r="8.7" fill="#696969" fill-opacity="0.6"/><circle r="7.5" fill="none" stroke="#696969" stroke-opacity="0.6" stroke-width="2.4"/></g><g id="pp"><circle r="8.6" fill="#cc66cc" fill-opacity="0.72"/><circle r="7.4" fill="none" stroke="#cc66cc" stroke-opacity="0.72" stroke-width="2.4"/></g></defs>
<use href="#gp" x="175" y="893.6"/>
<use href="#gp" x="173.6" y="899.6"/>
<use href="#gp" x="176.3" y="902.5"/>
<use href="#gp" x="173" y="902.5"/>
<use href="#gp" x="175.2" y="929.4"/>
<use href="#gp" x="174.8" y="973.5"/>
<use href="#gp" x="176.1" y="990.6"/>
<use href="#gp" x="173.6" y="1005.1"/>
<use href="#gp" x="175.2" y="1012.7"/>
<use href="#gp" x="173.4" y="1049.5"/>
<use href="#gp" x="178.2" y="1053"/>
<use href="#gp" x="171.1" y="1059.1"/>
<use href="#gp" x="177.4" y="1059.5"/>
<use href="#gp" x="174.2" y="1061.4"/>
<use href="#gp" x="180.7" y="1061.9"/>
<use href="#gp" x="168.9" y="1061.9"/>
<use href="#gp" x="175.4" y="1067.4"/>
<use href="#gp" x="172.2" y="1070.3"/>
<use href="#gp" x="178.6" y="1070.3"/>
<use href="#gp" x="170.4" y="1081.3"/>
<use href="#gp" x="177.4" y="1088.7"/>
<use href="#gp" x="173.5" y="1088.8"/>
<use href="#gp" x="181.5" y="1090.6"/>
<use href="#gp" x="168.3" y="1092.7"/>
<use href="#gp" x="176.6" y="1096.7"/>
<use href="#gp" x="172.4" y="1097.2"/>
<use href="#gp" x="180.7" y="1098.8"/>
<use href="#gp" x="170.3" y="1099.5"/>
<use href="#gp" x="178.6" y="1099.5"/>
<use href="#gp" x="174.5" y="1101.6"/>
<use href="#gp" x="182.6" y="1101.6"/>
<use href="#gp" x="168.2" y="1107.8"/>
<use href="#gp" x="175.2" y="1115.2"/>
<use href="#gp" x="171.9" y="1125.6"/>
<use href="#gp" x="178.6" y="1126.4"/>
<use href="#gp" x="169.9" y="1128.5"/>
<use href="#gp" x="177" y="1131.6"/>
<use href="#gp" x="173.4" y="1132.9"/>
<use href="#gp" x="180.8" y="1134.5"/>
<use href="#gp" x="168.8" y="1134.5"/>
<use href="#gp" x="176.2" y="1136.4"/>
<use href="#gp" x="172.6" y="1141.2"/>
<use href="#gp" x="179.5" y="1143.8"/>
<use href="#gp" x="171.3" y="1150"/>
<use href="#gp" x="177.5" y="1150.7"/>
<use href="#gp" x="174.4" y="1158.4"/>
<use href="#gp" x="180.4" y="1161.4"/>
<use href="#gp" x="169.5" y="1164.5"/>
<use href="#gp" x="175.6" y="1170.5"/>
<use href="#gp" x="172.5" y="1172.1"/>
<use href="#gp" x="178.7" y="1172.6"/>
<use href="#gp" x="170.9" y="1172.9"/>
<use href="#gp" x="177" y="1180.4"/>
<use href="#gp" x="174.1" y="1183"/>
<use href="#gp" x="179.7" y="1187.6"/>
<use href="#gp" x="170.7" y="1189.8"/>
<use href="#gp" x="176.4" y="1202.1"/>
<use href="#gp" x="173.1" y="1204.3"/>
<use href="#gp" x="179.8" y="1205.2"/>
<use href="#gp" x="171.4" y="1205.4"/>
<use href="#gp" x="178.2" y="1208.9"/>
<use href="#gp" x="174.8" y="1209.7"/>
<use href="#gp" x="181.6" y="1211.8"/>
<use href="#gp" x="168.7" y="1217.3"/>
<use href="#gp" x="175.1" y="1218.9"/>
<use href="#gp" x="172.2" y="1222.6"/>
<use href="#gp" x="177.8" y="1227.2"/>
<use href="#gp" x="170.4" y="1237.1"/>
<use href="#gp" x="176.8" y="1240.7"/>
<use href="#gp" x="173.2" y="1244.6"/>
<use href="#gp" x="181.2" y="1246.5"/>
<use href="#gp" x="167.8" y="1248.1"/>
<use href="#gp" x="176.2" y="1248.6"/>
<use href="#gp" x="171.9" y="1249.1"/>
<use href="#gp" x="180.9" y="1254.8"/>
<use href="#gp" x="169.3" y="1256.5"/>
<use href="#gp" x="178.7" y="1256.5"/>
<use href="#gp" x="174" y="1258.6"/>
<use href="#gp" x="183.5" y="1260.8"/>
<use href="#gp" x="166" y="1263.7"/>
<use href="#gp" x="175.8" y="1263.7"/>
<use href="#gp" x="170.8" y="1267.2"/>
<use href="#gp" x="181.2" y="1274.6"/>
<use href="#gp" x="167.7" y="1275.5"/>
<use href="#gp" x="178.6" y="1277"/>
<use href="#gp" x="173.1" y="1278.3"/>
<use href="#gp" x="184.3" y="1280.4"/>
<use href="#gp" x="166" y="1281.5"/>
<use href="#gp" x="177.3" y="1283"/>
<use href="#gp" x="171.6" y="1283.1"/>
<use href="#gp" x="183" y="1285.7"/>
<use href="#gp" x="168.8" y="1285.9"/>
<use href="#gp" x="180.2" y="1285.9"/>
<use href="#gp" x="174.5" y="1287.8"/>
<use href="#gp" x="185.8" y="1290.6"/>
<use href="#gp" x="164.2" y="1291.4"/>
<use href="#gp" x="175.5" y="1295.8"/>
<use href="#gp" x="169.3" y="1303.2"/>
<use href="#gp" x="182" y="1304.1"/>
<use href="#gp" x="165.8" y="1304.8"/>
<use href="#gp" x="179" y="1306.9"/>
<use href="#gp" x="172.1" y="1309.3"/>
<use href="#gp" x="186.5" y="1310.1"/>
<use href="#gp" x="162.8" y="1311.6"/>
<use href="#gp" x="177.6" y="1312.2"/>
<use href="#gp" x="170.1" y="1312.8"/>
<use href="#gp" x="185.1" y="1313.3"/>
<use href="#gp" x="166.2" y="1314.3"/>
<use href="#gp" x="181.5" y="1315.4"/>
<use href="#gp" x="173.8" y="1316.2"/>
<use href="#gp" x="189.4" y="1318.2"/>
<use href="#gp" x="161" y="1318.2"/>
<use href="#gp" x="176.7" y="1318.4"/>
<use href="#gp" x="168.8" y="1320.7"/>
<use href="#gp" x="184.6" y="1322.3"/>
<use href="#gp" x="164.9" y="1323.6"/>
<use href="#gp" x="180.7" y="1325.1"/>
<use href="#gp" x="172.8" y="1325.1"/>
<use href="#gp" x="188.5" y="1329.7"/>
<use href="#gp" x="162.9" y="1332.5"/>
<use href="#gp" x="178.7" y="1332.5"/>
<use href="#gp" x="170.8" y="1333.4"/>
<use href="#gp" x="186.7" y="1334.4"/>
<use href="#gp" x="166.8" y="1334.7"/>
<use href="#gp" x="182.7" y="1335.5"/>
<use href="#gp" x="174.7" y="1339.7"/>
<use href="#gp" x="191.2" y="1340.8"/>
<use href="#gp" x="158.5" y="1342.4"/>
<use href="#gp" x="175.1" y="1342.9"/>
<use href="#gp" x="166.7" y="1344.8"/>
<use href="#gp" x="183.6" y="1345.1"/>
<use href="#gp" x="162.3" y="1347.1"/>
<use href="#gp" x="179.4" y="1347.7"/>
<use href="#gp" x="170.8" y="1349.8"/>
<use href="#gp" x="188" y="1350.7"/>
<use href="#gp" x="160.1" y="1350.9"/>
<use href="#gp" x="177.3" y="1351.8"/>
<use href="#gp" x="168.7" y="1352"/>
<use href="#gp" x="185.9" y="1352.2"/>
<use href="#gp" x="164.4" y="1353.7"/>
<use href="#gp" x="181.6" y="1353.7"/>
<use href="#gp" x="173" y="1356.9"/>
<use href="#gp" x="190.1" y="1358.3"/>
<use href="#gp" x="159.1" y="1359.4"/>
<use href="#gp" x="176.2" y="1361.1"/>
<use href="#gp" x="167.7" y="1361.1"/>
<use href="#gp" x="184.7" y="1364.6"/>
<use href="#gp" x="163.5" y="1366.3"/>
<use href="#gp" x="180.4" y="1367.3"/>
<use href="#gp" x="171.9" y="1368.3"/>
<use href="#gp" x="189" y="1369.4"/>
<use href="#gp" x="161.3" y="1371.3"/>
<use href="#gp" x="178.3" y="1373"/>
<use href="#gp" x="169.8" y="1373.8"/>
<use href="#gp" x="186.9" y="1374.1"/>
<use href="#gp" x="165.5" y="1375.7"/>
<use href="#gp" x="182.6" y="1377.3"/>
<use href="#gp" x="174.1" y="1378.7"/>
<use href="#gp" x="190.9" y="1380"/>
<use href="#gp" x="158.8" y="1380.2"/>
<use href="#gp" x="175.7" y="1380.2"/>
<use href="#gp" x="167.3" y="1380.6"/>
<use href="#gp" x="184" y="1382.1"/>
<use href="#gp" x="163.2" y="1382.6"/>
<use href="#gp" x="179.7" y="1384.7"/>
<use href="#gp" x="171.6" y="1387.6"/>
<use href="#gp" x="187.7" y="1387.6"/>
<use href="#gp" x="161.6" y="1388"/>
<use href="#gp" x="177.6" y="1388.6"/>
<use href="#gp" x="169.7" y="1389.2"/>
<use href="#gp" x="185.4" y="1396.1"/>
<use href="#gp" x="165.8" y="1396.1"/>
<use href="#gp" x="181.5" y="1398.6"/>
<use href="#gp" x="173.6" y="1400.5"/>
<use href="#gp" x="189.6" y="1402.2"/>
<use href="#gp" x="160.5" y="1403.5"/>
<use href="#gp" x="176.6" y="1404.3"/>
<use href="#gp" x="168.5" y="1406.4"/>
<use href="#gp" x="184.8" y="1406.6"/>
<use href="#gp" x="164.4" y="1407"/>
<use href="#gp" x="180.7" y="1407.1"/>
<use href="#gp" x="172.6" y="1409.4"/>
<use href="#gp" x="188.9" y="1409.4"/>
<use href="#gp" x="162.3" y="1410.5"/>
<use href="#gp" x="178.7" y="1410.7"/>
<use href="#gp" x="170.6" y="1413.2"/>
<use href="#gp" x="186.7" y="1414.5"/>
<use href="#gp" x="166.6" y="1414.9"/>
<use href="#gp" x="182.6" y="1416.5"/>
<use href="#gp" x="174.6" y="1419.4"/>
<use href="#gp" x="190.2" y="1419.4"/>
<use href="#gp" x="160" y="1420.7"/>
<use href="#gp" x="175.4" y="1420.7"/>
<use href="#gp" x="167.7" y="1420.9"/>
<use href="#gp" x="182.7" y="1424.7"/>
<use href="#gp" x="164.6" y="1427.8"/>
<use href="#gp" x="178.9" y="1428.4"/>
<use href="#gp" x="171.8" y="1432.1"/>
<use href="#gp" x="185.9" y="1432.9"/>
<use href="#gp" x="163" y="1435.2"/>
<use href="#gp" x="177.1" y="1435.3"/>
<use href="#gp" x="170" y="1436.3"/>
<use href="#gp" x="184.2" y="1437.2"/>
<use href="#gp" x="166.2" y="1441.8"/>
<use href="#gp" x="180.9" y="1442.5"/>
<use href="#gp" x="173.5" y="1442.7"/>
<use href="#gp" x="188.3" y="1442.9"/>
<use href="#gp" x="161" y="1446.3"/>
<use href="#gp" x="176.3" y="1447.3"/>
<use href="#gp" x="168.5" y="1449.3"/>
<use href="#gp" x="184.3" y="1449.9"/>
<use href="#gp" x="164.3" y="1451.2"/>
<use href="#gp" x="180.6" y="1453.4"/>
<use href="#gp" x="172.2" y="1454.9"/>
<use href="#gp" x="189.3" y="1456.2"/>
<use href="#gp" x="161.5" y="1456.2"/>
<use href="#gp" x="178.6" y="1456.4"/>
<use href="#gp" x="169.9" y="1458.6"/>
<use href="#gp" x="187.8" y="1460.9"/>
<use href="#gp" x="165" y="1463.8"/>
<use href="#gp" x="183.5" y="1463.8"/>
<use href="#gp" x="174.3" y="1463.8"/>
<use href="#gp" x="192.8" y="1463.9"/>
<use href="#gp" x="157.4" y="1464.7"/>
<use href="#gp" x="176" y="1465.2"/>
<use href="#gp" x="166.5" y="1468.3"/>
<use href="#gp" x="185.6" y="1469"/>
<use href="#gp" x="161.6" y="1469.4"/>
<use href="#gp" x="180.9" y="1471.3"/>
<use href="#gp" x="171.2" y="1472.1"/>
<use href="#gp" x="190.7" y="1472.1"/>
<use href="#gp" x="158.8" y="1475.2"/>
<use href="#gp" x="178.5" y="1475.4"/>
<use href="#gp" x="168.7" y="1475.7"/>
<use href="#gp" x="188.4" y="1476.4"/>
<use href="#gp" x="163.6" y="1478.3"/>
<use href="#gp" x="183.6" y="1478.3"/>
<use href="#gp" x="173.6" y="1479.5"/>
<use href="#gp" x="193.6" y="1480.4"/>
<use href="#gp" x="157.2" y="1482.1"/>
<use href="#gp" x="177.4" y="1482.8"/>
<use href="#gp" x="167.3" y="1483.1"/>
<use href="#gp" x="187.6" y="1486.5"/>
<use href="#gp" x="162" y="1489.5"/>
<use href="#gp" x="182.5" y="1490.2"/>
<use href="#gp" x="172.3" y="1490.4"/>
<use href="#gp" x="192.8" y="1490.4"/>
<use href="#gp" x="159.4" y="1490.7"/>
<use href="#gp" x="180" y="1491.2"/>
<use href="#gp" x="169.7" y="1492.6"/>
<use href="#gp" x="190.3" y="1493.8"/>
<use href="#gp" x="164.6" y="1495.4"/>
<use href="#gp" x="185.1" y="1495.4"/>
<use href="#gp" x="174.8" y="1497"/>
<use href="#gp" x="195.3" y="1497.6"/>
<use href="#gp" x="154.6" y="1497.6"/>
<use href="#gp" x="175.1" y="1497.8"/>
<use href="#gp" x="164.9" y="1498.6"/>
<use href="#gp" x="185.2" y="1500.7"/>
<use href="#gp" x="160" y="1502.2"/>
<use href="#gp" x="180.1" y="1503.9"/>
<use href="#gp" x="170.1" y="1504.4"/>
<use href="#gp" x="189.9" y="1505"/>
<use href="#gp" x="157.8" y="1505.2"/>
<use href="#gp" x="177.5" y="1507.5"/>
<use href="#gp" x="167.7" y="1508.1"/>
<use href="#gp" x="187.3" y="1510.7"/>
<use href="#gp" x="162.8" y="1511.3"/>
<use href="#gp" x="182.4" y="1511.3"/>
<use href="#gp" x="172.6" y="1511.9"/>
<use href="#gp" x="192.2" y="1512.1"/>
<use href="#gp" x="155.9" y="1518.1"/>
<use href="#gp" x="176.4" y="1518.7"/>
<use href="#gp" x="166" y="1519.6"/>
<use href="#gp" x="186.9" y="1519.8"/>
<use href="#gp" x="160.3" y="1522"/>
<use href="#gp" x="181.9" y="1522.3"/>
<use href="#gp" x="171" y="1523.5"/>
<use href="#gp" x="193.7" y="1526.7"/>
<use href="#gp" x="156.4" y="1527.2"/>
<use href="#gp" x="179.4" y="1527.2"/>
<use href="#gp" x="167.9" y="1527.2"/>
<use href="#gp" x="191.2" y="1528.8"/>
<use href="#gp" x="161.8" y="1529.5"/>
<use href="#gp" x="185.5" y="1530.4"/>
<use href="#gp" x="173.6" y="1530.6"/>
<use href="#gp" x="197.4" y="1530.9"/>
<use href="#gp" x="152" y="1531.4"/>
<use href="#gp" x="175.8" y="1532.5"/>
<use href="#gp" x="163.8" y="1533.6"/>
<use href="#gp" x="187.8" y="1534.1"/>
<use href="#gp" x="157.8" y="1534.6"/>
<use href="#gp" x="181.8" y="1534.7"/>
<use href="#gp" x="169.8" y="1535"/>
<use href="#gp" x="193.7" y="1536.6"/>
<use href="#gp" x="155" y="1537.2"/>
<use href="#gp" x="178.8" y="1537.2"/>
<use href="#gp" x="166.9" y="1537.8"/>
<use href="#gp" x="190.6" y="1537.8"/>
<use href="#gp" x="161.2" y="1539.5"/>
<use href="#gp" x="184.6" y="1539.5"/>
<use href="#gp" x="172.9" y="1539.9"/>
<use href="#gp" x="196.2" y="1539.9"/>
<use href="#gp" x="155" y="1544.2"/>
<use href="#gp" x="177.2" y="1544.4"/>
<use href="#gp" x="166.1" y="1544.6"/>
<use href="#gp" x="188.1" y="1545.2"/>
<use href="#gp" x="161.1" y="1547.3"/>
<use href="#gp" x="182.2" y="1549.2"/>
<use href="#gp" x="172" y="1551.9"/>
<use href="#gp" x="191.9" y="1552.1"/>
<use href="#gp" x="160.4" y="1556.4"/>
<use href="#gp" x="179.1" y="1557.5"/>
<use href="#gp" x="169.9" y="1557.5"/>
<use href="#gp" x="188.3" y="1558"/>
<use href="#gp" x="165.4" y="1558.9"/>
<use href="#gp" x="183.6" y="1559"/>
<use href="#gp" x="174.5" y="1559"/>
<use href="#gp" x="192.6" y="1559"/>
<use href="#gp" x="157.4" y="1559.5"/>
<use href="#gp" x="175.3" y="1560.4"/>
<use href="#gp" x="166.9" y="1563.5"/>
<use href="#gp" x="183.7" y="1563.5"/>
<use href="#gp" x="162.9" y="1564.3"/>
<use href="#gp" x="179.3" y="1566.4"/>
<use href="#gp" x="329.5" y="912.1"/>
<use href="#gp" x="328.7" y="926.8"/>
<use href="#gp" x="330.3" y="936.7"/>
<use href="#gp" x="328.4" y="951.3"/>
<use href="#gp" x="330" y="970"/>
<use href="#gp" x="329" y="973.2"/>
<use href="#gp" x="330.9" y="987.8"/>
<use href="#gp" x="328.2" y="994.5"/>
<use href="#gp" x="329.8" y="1031"/>
<use href="#gp" x="328.5" y="1032.3"/>
<use href="#gp" x="331.4" y="1037.2"/>
<use href="#gp" x="327.4" y="1046.6"/>
<use href="#gp" x="330.7" y="1051.8"/>
<use href="#gp" x="329.1" y="1056.8"/>
<use href="#gp" x="332" y="1061.2"/>
<use href="#gp" x="326.9" y="1074.7"/>
<use href="#gp" x="329.7" y="1083.2"/>
<use href="#gp" x="327.8" y="1089.3"/>
<use href="#gp" x="331.7" y="1093.3"/>
<use href="#gp" x="326.8" y="1095.1"/>
<use href="#gp" x="330.7" y="1097.8"/>
<use href="#gp" x="328.9" y="1104.4"/>
<use href="#gp" x="331.8" y="1117.9"/>
<use href="#gp" x="325.9" y="1132.2"/>
<use href="#gp" x="330.3" y="1132.6"/>
<use href="#gp" x="328.1" y="1132.6"/>
<use href="#gp" x="332.7" y="1135.1"/>
<use href="#gp" x="326.6" y="1141"/>
<use href="#gp" x="332.1" y="1149.7"/>
<use href="#gp" x="329.1" y="1149.9"/>
<use href="#gp" x="335.8" y="1156.8"/>
<use href="#gp" x="322.9" y="1157.3"/>
<use href="#gp" x="329.7" y="1159.5"/>
<use href="#gp" x="325.9" y="1164.5"/>
<use href="#gp" x="333.6" y="1165.8"/>
<use href="#gp" x="323.9" y="1166.7"/>
<use href="#gp" x="331.8" y="1172.2"/>
<use href="#gp" x="327.7" y="1174.1"/>
<use href="#gp" x="335.9" y="1174.7"/>
<use href="#gp" x="322.5" y="1175.8"/>
<use href="#gp" x="330.8" y="1177.5"/>
<use href="#gp" x="326.6" y="1180.4"/>
<use href="#gp" x="335.1" y="1186.8"/>
<use href="#gp" x="324.3" y="1192.1"/>
<use href="#gp" x="333" y="1192.9"/>
<use href="#gp" x="328.7" y="1193.2"/>
<use href="#gp" x="337.4" y="1193.4"/>
<use href="#gp" x="321.6" y="1194.8"/>
<use href="#gp" x="330.3" y="1198.3"/>
<use href="#gp" x="326.1" y="1199.3"/>
<use href="#gp" x="334.4" y="1202.6"/>
<use href="#gp" x="324.2" y="1203.3"/>
<use href="#gp" x="332.2" y="1207.8"/>
<use href="#gp" x="328.3" y="1208"/>
<use href="#gp" x="335.9" y="1217.3"/>
<use href="#gp" x="323.2" y="1222.9"/>
<use href="#gp" x="331.3" y="1223.6"/>
<use href="#gp" x="327.2" y="1224.2"/>
<use href="#gp" x="335.6" y="1227.1"/>
<use href="#gp" x="325" y="1228.5"/>
<use href="#gp" x="333.5" y="1228.5"/>
<use href="#gp" x="329.2" y="1230"/>
<use href="#gp" x="338" y="1235.3"/>
<use href="#gp" x="320.8" y="1235.7"/>
<use href="#gp" x="329.6" y="1238.1"/>
<use href="#gp" x="325.2" y="1238.8"/>
<use href="#gp" x="334.5" y="1250"/>
<use href="#gp" x="322.4" y="1250"/>
<use href="#gp" x="332.1" y="1251.2"/>
<use href="#gp" x="327.2" y="1253.1"/>
<use href="#gp" x="337" y="1253.1"/>
<use href="#gp" x="321" y="1254.4"/>
<use href="#gp" x="330.9" y="1255.2"/>
<use href="#gp" x="325.9" y="1257.3"/>
<use href="#gp" x="335.9" y="1259.3"/>
<use href="#gp" x="323.4" y="1263.6"/>
<use href="#gp" x="333.4" y="1264.6"/>
<use href="#gp" x="328.4" y="1264.6"/>
<use href="#gp" x="338.3" y="1266.7"/>
<use href="#gp" x="320.4" y="1270"/>
<use href="#gp" x="330.3" y="1276"/>
<use href="#gp" x="325.1" y="1278.9"/>
<use href="#gp" x="335.5" y="1279.6"/>
<use href="#gp" x="322.4" y="1280.2"/>
<use href="#gp" x="333" y="1282"/>
<use href="#gp" x="327.6" y="1285.2"/>
<use href="#gp" x="338.8" y="1285.9"/>
<use href="#gp" x="320.1" y="1289.5"/>
<use href="#gp" x="331.9" y="1289.5"/>
<use href="#gp" x="326" y="1290.6"/>
<use href="#gp" x="338" y="1292.3"/>
<use href="#gp" x="322.8" y="1294.8"/>
<use href="#gp" x="335.1" y="1294.8"/>
<use href="#gp" x="328.9" y="1297.6"/>
<use href="#gp" x="341.5" y="1299.8"/>
<use href="#gp" x="317.5" y="1301.1"/>
<use href="#gp" x="330.1" y="1303.3"/>
<use href="#gp" x="323.8" y="1303.8"/>
<use href="#gp" x="336.4" y="1306.4"/>
<use href="#gp" x="320.7" y="1307.9"/>
<use href="#gp" x="333.2" y="1307.9"/>
<use href="#gp" x="327" y="1309.1"/>
<use href="#gp" x="339.4" y="1309.8"/>
<use href="#gp" x="319.4" y="1312.7"/>
<use href="#gp" x="331.6" y="1313.5"/>
<use href="#gp" x="325.6" y="1315.4"/>
<use href="#gp" x="337.5" y="1318.4"/>
<use href="#gp" x="322.6" y="1319.1"/>
<use href="#gp" x="334.5" y="1323.4"/>
<use href="#gp" x="328.6" y="1325.6"/>
<use href="#gp" x="340.8" y="1327.7"/>
<use href="#gp" x="318.5" y="1328.6"/>
<use href="#gp" x="330.9" y="1330.9"/>
<use href="#gp" x="324.5" y="1332.7"/>
<use href="#gp" x="337.3" y="1333.8"/>
<use href="#gp" x="321" y="1337"/>
<use href="#gp" x="334.3" y="1337.3"/>
<use href="#gp" x="327.6" y="1337.3"/>
<use href="#gp" x="340.9" y="1338"/>
<use href="#gp" x="319.3" y="1338"/>
<use href="#gp" x="332.7" y="1343.4"/>
<use href="#gp" x="325.8" y="1343.7"/>
<use href="#gp" x="339.7" y="1344.3"/>
<use href="#gp" x="322.3" y="1345.8"/>
<use href="#gp" x="336.3" y="1346.2"/>
<use href="#gp" x="329.3" y="1346.3"/>
<use href="#gp" x="343.9" y="1353.2"/>
<use href="#gp" x="315" y="1353.6"/>
<use href="#gp" x="329.6" y="1353.6"/>
<use href="#gp" x="322.2" y="1355.2"/>
<use href="#gp" x="337.2" y="1360.6"/>
<use href="#gp" x="318.2" y="1360.9"/>
<use href="#gp" x="333.4" y="1360.9"/>
<use href="#gp" x="325.8" y="1361.7"/>
<use href="#gp" x="341.1" y="1362.1"/>
<use href="#gp" x="316.2" y="1362.9"/>
<use href="#gp" x="331.5" y="1362.9"/>
<use href="#gp" x="323.9" y="1365.2"/>
<use href="#gp" x="339.2" y="1367.4"/>
<use href="#gp" x="320.1" y="1368"/>
<use href="#gp" x="335.3" y="1369.4"/>
<use href="#gp" x="327.7" y="1370"/>
<use href="#gp" x="342.9" y="1370.1"/>
<use href="#gp" x="315.4" y="1370.1"/>
<use href="#gp" x="330.5" y="1373.6"/>
<use href="#gp" x="323.1" y="1373.7"/>
<use href="#gp" x="337.7" y="1379.5"/>
<use href="#gp" x="319.7" y="1379.6"/>
<use href="#gp" x="334.1" y="1380.1"/>
<use href="#gp" x="326.9" y="1380.5"/>
<use href="#gp" x="341.2" y="1385.2"/>
<use href="#gp" x="318" y="1385.9"/>
<use href="#gp" x="332.3" y="1388.8"/>
<use href="#gp" x="325.1" y="1389.6"/>
<use href="#gp" x="339.6" y="1391.1"/>
<use href="#gp" x="321.4" y="1391.1"/>
<use href="#gp" x="336" y="1392.3"/>
<use href="#gp" x="328.7" y="1395.3"/>
<use href="#gp" x="343.4" y="1396.1"/>
<use href="#gp" x="315.4" y="1397.6"/>
<use href="#gp" x="330.1" y="1397.7"/>
<use href="#gp" x="322.7" y="1399.6"/>
<use href="#gp" x="337.4" y="1399.6"/>
<use href="#gp" x="319.1" y="1400.3"/>
<use href="#gp" x="333.7" y="1403.8"/>
<use href="#gp" x="326.4" y="1404.1"/>
<use href="#gp" x="341" y="1404.1"/>
<use href="#gp" x="317.3" y="1404.5"/>
<use href="#gp" x="331.9" y="1408.4"/>
<use href="#gp" x="324.6" y="1410.3"/>
<use href="#gp" x="339.3" y="1412.5"/>
<use href="#gp" x="320.8" y="1413.5"/>
<use href="#gp" x="335.8" y="1416.9"/>
<use href="#gp" x="328.1" y="1419.6"/>
<use href="#gp" x="343.9" y="1419.9"/>
<use href="#gp" x="315.1" y="1421.3"/>
<use href="#gp" x="331.1" y="1421.6"/>
<use href="#gp" x="323" y="1422"/>
<use href="#gp" x="339.5" y="1423.9"/>
<use href="#gp" x="318.5" y="1425.4"/>
<use href="#gp" x="335.5" y="1425.5"/>
<use href="#gp" x="327" y="1426.2"/>
<use href="#gp" x="344.5" y="1428.4"/>
<use href="#gp" x="315.9" y="1428.4"/>
<use href="#gp" x="333.6" y="1431.5"/>
<use href="#gp" x="324.5" y="1432"/>
<use href="#gp" x="343.2" y="1434.3"/>
<use href="#gp" x="319.6" y="1434.3"/>
<use href="#gp" x="338.5" y="1434.7"/>
<use href="#gp" x="329.1" y="1435.5"/>
<use href="#gp" x="348.3" y="1436.1"/>
<use href="#gp" x="310.4" y="1437.8"/>
<use href="#gp" x="330" y="1440"/>
<use href="#gp" x="319.9" y="1440.4"/>
<use href="#gp" x="340.1" y="1440.8"/>
<use href="#gp" x="314.7" y="1441.3"/>
<use href="#gp" x="335.2" y="1444.2"/>
<use href="#gp" x="324.8" y="1444.3"/>
<use href="#gp" x="345.9" y="1445.7"/>
<use href="#gp" x="311.3" y="1446.3"/>
<use href="#gp" x="332.7" y="1447.1"/>
<use href="#gp" x="321.9" y="1447.8"/>
<use href="#gp" x="343.8" y="1449.9"/>
<use href="#gp" x="316.1" y="1451.5"/>
<use href="#gp" x="338.4" y="1451.5"/>
<use href="#gp" x="327.2" y="1452"/>
<use href="#gp" x="349.9" y="1453.5"/>
<use href="#gp" x="308.7" y="1453.7"/>
<use href="#gp" x="331.5" y="1455.9"/>
<use href="#gp" x="319.9" y="1456.2"/>
<use href="#gp" x="343" y="1456.2"/>
<use href="#gp" x="314.2" y="1456.4"/>
<use href="#gp" x="337.3" y="1456.6"/>
<use href="#gp" x="325.7" y="1458.4"/>
<use href="#gp" x="349.1" y="1460.2"/>
<use href="#gp" x="311" y="1460.9"/>
<use href="#gp" x="334.5" y="1462.6"/>
<use href="#gp" x="322.7" y="1463"/>
<use href="#gp" x="346.2" y="1463.7"/>
<use href="#gp" x="316.8" y="1463.7"/>
<use href="#gp" x="340.3" y="1464.8"/>
<use href="#gp" x="328.6" y="1465.9"/>
<use href="#gp" x="352" y="1466.3"/>
<use href="#gp" x="307.4" y="1466.3"/>
<use href="#gp" x="330.8" y="1466.4"/>
<use href="#gp" x="319.1" y="1467.9"/>
<use href="#gp" x="342.4" y="1468.5"/>
<use href="#gp" x="313.4" y="1469"/>
<use href="#gp" x="336.5" y="1470.1"/>
<use href="#gp" x="325" y="1470.1"/>
<use href="#gp" x="347.9" y="1472.1"/>
<use href="#gp" x="311.1" y="1475.3"/>
<use href="#gp" x="333.5" y="1475.8"/>
<use href="#gp" x="322.3" y="1475.8"/>
<use href="#gp" x="344.5" y="1477.3"/>
<use href="#gp" x="316.9" y="1477.4"/>
<use href="#gp" x="339" y="1477.9"/>
<use href="#gp" x="328" y="1479.5"/>
<use href="#gp" x="349.6" y="1481.7"/>
<use href="#gp" x="310.5" y="1482.2"/>
<use href="#gp" x="332" y="1482.2"/>
<use href="#gp" x="321.3" y="1483.8"/>
<use href="#gp" x="342.7" y="1483.8"/>
<use href="#gp" x="316.1" y="1485.7"/>
<use href="#gp" x="337.2" y="1486.7"/>
<use href="#gp" x="326.7" y="1488.5"/>
<use href="#gp" x="347.7" y="1488.5"/>
<use href="#gp" x="313.7" y="1490.1"/>
<use href="#gp" x="334.5" y="1491"/>
<use href="#gp" x="324.1" y="1491.2"/>
<use href="#gp" x="344.9" y="1492.2"/>
<use href="#gp" x="319" y="1493"/>
<use href="#gp" x="339.7" y="1493.8"/>
<use href="#gp" x="329.3" y="1493.8"/>
<use href="#gp" x="350.1" y="1495"/>
<use href="#gp" x="308.9" y="1496.1"/>
<use href="#gp" x="329.6" y="1499.7"/>
<use href="#gp" x="319.2" y="1500.3"/>
<use href="#gp" x="340" y="1501.7"/>
<use href="#gp" x="314" y="1502.3"/>
<use href="#gp" x="334.8" y="1504.1"/>
<use href="#gp" x="324.3" y="1505.4"/>
<use href="#gp" x="345.3" y="1506"/>
<use href="#gp" x="311.2" y="1506.9"/>
<use href="#gp" x="332.2" y="1508"/>
<use href="#gp" x="321.7" y="1508.1"/>
<use href="#gp" x="342.7" y="1508.6"/>
<use href="#gp" x="316.4" y="1509.7"/>
<use href="#gp" x="337.5" y="1509.7"/>
<use href="#gp" x="326.9" y="1510.4"/>
<use href="#gp" x="348.1" y="1512.2"/>
<use href="#gp" x="309.8" y="1512.6"/>
<use href="#gp" x="330.9" y="1512.6"/>
<use href="#gp" x="320.3" y="1514.4"/>
<use href="#gp" x="341.5" y="1514.5"/>
<use href="#gp" x="315" y="1514.6"/>
<use href="#gp" x="336.3" y="1518.5"/>
<use href="#gp" x="325.6" y="1519.7"/>
<use href="#gp" x="347" y="1520.4"/>
<use href="#gp" x="312" y="1523"/>
<use href="#gp" x="333.7" y="1523.2"/>
<use href="#gp" x="322.8" y="1523.2"/>
<use href="#gp" x="344.6" y="1523.9"/>
<use href="#gp" x="317.3" y="1524"/>
<use href="#gp" x="339.2" y="1524.9"/>
<use href="#gp" x="328.2" y="1528.9"/>
<use href="#gp" x="350.6" y="1529.3"/>
<use href="#gp" x="307.9" y="1529.8"/>
<use href="#gp" x="330.3" y="1530"/>
<use href="#gp" x="319" y="1531.7"/>
<use href="#gp" x="341.6" y="1532.5"/>
<use href="#gp" x="313.2" y="1534.4"/>
<use href="#gp" x="336" y="1535.6"/>
<use href="#gp" x="324.6" y="1535.7"/>
<use href="#gp" x="347.4" y="1536.2"/>
<use href="#gp" x="310.3" y="1536.2"/>
<use href="#gp" x="333.1" y="1538.2"/>
<use href="#gp" x="321.8" y="1538.5"/>
<use href="#gp" x="344.5" y="1538.9"/>
<use href="#gp" x="316.1" y="1538.9"/>
<use href="#gp" x="338.7" y="1540.4"/>
<use href="#gp" x="327.5" y="1540.4"/>
<use href="#gp" x="350" y="1540.6"/>
<use href="#gp" x="309.2" y="1540.6"/>
<use href="#gp" x="331.7" y="1541.8"/>
<use href="#gp" x="320.6" y="1542"/>
<use href="#gp" x="342.7" y="1542.8"/>
<use href="#gp" x="315.3" y="1544.2"/>
<use href="#gp" x="337" y="1545.2"/>
<use href="#gp" x="326.4" y="1548.4"/>
<use href="#gp" x="346.4" y="1549.2"/>
<use href="#gp" x="314.4" y="1550.5"/>
<use href="#gp" x="333.8" y="1550.5"/>
<use href="#gp" x="324.2" y="1551.6"/>
<use href="#gp" x="343.2" y="1551.8"/>
<use href="#gp" x="320" y="1553.7"/>
<use href="#gp" x="337.8" y="1554.7"/>
<use href="#gp" x="329" y="1556.9"/>
<use href="#gp" x="345.5" y="1557.1"/>
<use href="#gp" x="313.8" y="1557.9"/>
<use href="#gp" x="329.8" y="1560"/>
<use href="#gp" x="322.3" y="1560"/>
<use href="#gp" x="337.1" y="1561.1"/>
<use href="#gp" x="319.2" y="1562.2"/>
<use href="#gp" x="332.9" y="1566.4"/>
<use href="#gp" x="687" y="944.4"/>
<use href="#gp" x="686.6" y="989.6"/>
<use href="#gp" x="687.5" y="998.9"/>
<use href="#gp" x="686.3" y="1022.4"/>
<use href="#gp" x="687.2" y="1033.7"/>
<use href="#gp" x="686.9" y="1082.7"/>
<use href="#gp" x="688.7" y="1113.7"/>
<use href="#gp" x="684.9" y="1115.6"/>
<use href="#gp" x="687.3" y="1117.5"/>
<use href="#gp" x="686.1" y="1120.2"/>
<use href="#gp" x="688.4" y="1123.1"/>
<use href="#gp" x="684.7" y="1158.9"/>
<use href="#gp" x="688.5" y="1160.9"/>
<use href="#gp" x="686.5" y="1162.7"/>
<use href="#gp" x="691.2" y="1165.5"/>
<use href="#gp" x="682.3" y="1168.3"/>
<use href="#gp" x="687.3" y="1168.3"/>
<use href="#gp" x="684.8" y="1171.3"/>
<use href="#gp" x="689.9" y="1172.1"/>
<use href="#gp" x="683.5" y="1174.8"/>
<use href="#gp" x="688.6" y="1175.8"/>
<use href="#gp" x="686.1" y="1180.4"/>
<use href="#gp" x="690.9" y="1190.4"/>
<use href="#gp" x="683.1" y="1191.8"/>
<use href="#gp" x="688" y="1195.6"/>
<use href="#gp" x="685.3" y="1198.3"/>
<use href="#gp" x="691.2" y="1203.1"/>
<use href="#gp" x="683.4" y="1205"/>
<use href="#gp" x="689.8" y="1205.5"/>
<use href="#gp" x="686.6" y="1206.4"/>
<use href="#gp" x="693.1" y="1206.9"/>
<use href="#gp" x="680.4" y="1209.6"/>
<use href="#gp" x="687.2" y="1213.5"/>
<use href="#gp" x="683.7" y="1216.5"/>
<use href="#gp" x="690.7" y="1218"/>
<use href="#gp" x="682.1" y="1219.5"/>
<use href="#gp" x="688.9" y="1221"/>
<use href="#gp" x="685.5" y="1222.9"/>
<use href="#gp" x="692.1" y="1225"/>
<use href="#gp" x="681.5" y="1225.6"/>
<use href="#gp" x="688" y="1225.8"/>
<use href="#gp" x="684.9" y="1230.4"/>
<use href="#gp" x="691" y="1235"/>
<use href="#gp" x="683.1" y="1240.6"/>
<use href="#gp" x="689.8" y="1242.6"/>
<use href="#gp" x="686.3" y="1246.4"/>
<use href="#gp" x="694.3" y="1249.3"/>
<use href="#gp" x="679.3" y="1251.7"/>
<use href="#gp" x="687.8" y="1252.1"/>
<use href="#gp" x="683.5" y="1252.6"/>
<use href="#gp" x="692.2" y="1253.9"/>
<use href="#gp" x="681.1" y="1255.9"/>
<use href="#gp" x="690.1" y="1257.1"/>
<use href="#gp" x="685.6" y="1257.7"/>
<use href="#gp" x="694.7" y="1258.5"/>
<use href="#gp" x="679.8" y="1258.6"/>
<use href="#gp" x="689" y="1260.6"/>
<use href="#gp" x="684.4" y="1261"/>
<use href="#gp" x="693.5" y="1263.3"/>
<use href="#gp" x="682.3" y="1265.2"/>
<use href="#gp" x="691" y="1267.2"/>
<use href="#gp" x="686.7" y="1269.2"/>
<use href="#gp" x="695.1" y="1269.8"/>
<use href="#gp" x="678.9" y="1270.2"/>
<use href="#gp" x="687.1" y="1272.6"/>
<use href="#gp" x="683.2" y="1279.6"/>
<use href="#gp" x="691.2" y="1284.5"/>
<use href="#gp" x="681" y="1284.8"/>
<use href="#gp" x="689.2" y="1285"/>
<use href="#gp" x="685" y="1288.8"/>
<use href="#gp" x="693.9" y="1290.2"/>
<use href="#gp" x="679.1" y="1291.5"/>
<use href="#gp" x="688.3" y="1291.7"/>
<use href="#gp" x="683.7" y="1292.4"/>
<use href="#gp" x="693.2" y="1295.8"/>
<use href="#gp" x="681.1" y="1296.1"/>
<use href="#gp" x="690.8" y="1296.2"/>
<use href="#gp" x="685.9" y="1299"/>
<use href="#gp" x="696.1" y="1302.4"/>
<use href="#gp" x="677.6" y="1303.1"/>
<use href="#gp" x="687.8" y="1303.3"/>
<use href="#gp" x="682.7" y="1304.2"/>
<use href="#gp" x="692.9" y="1304.8"/>
<use href="#gp" x="680.2" y="1306.7"/>
<use href="#gp" x="690.3" y="1307.4"/>
<use href="#gp" x="685.3" y="1309.6"/>
<use href="#gp" x="695.1" y="1311.7"/>
<use href="#gp" x="679.3" y="1312.4"/>
<use href="#gp" x="688.9" y="1314.2"/>
<use href="#gp" x="684.2" y="1314.4"/>
<use href="#gp" x="693.7" y="1314.4"/>
<use href="#gp" x="682" y="1318.8"/>
<use href="#gp" x="691.2" y="1319.3"/>
<use href="#gp" x="686.6" y="1321.7"/>
<use href="#gp" x="695.8" y="1323.7"/>
<use href="#gp" x="677.7" y="1329.3"/>
<use href="#gp" x="687.5" y="1330.3"/>
<use href="#gp" x="682.1" y="1334"/>
<use href="#gp" x="692.9" y="1334.1"/>
<use href="#gp" x="679.2" y="1335.2"/>
<use href="#gp" x="690.3" y="1335.4"/>
<use href="#gp" x="684.7" y="1336.8"/>
<use href="#gp" x="696.4" y="1338.5"/>
<use href="#gp" x="677" y="1339.6"/>
<use href="#gp" x="689.1" y="1341.5"/>
<use href="#gp" x="682.8" y="1342.5"/>
<use href="#gp" x="695.8" y="1344.8"/>
<use href="#gp" x="679.4" y="1344.8"/>
<use href="#gp" x="692.5" y="1345.2"/>
<use href="#gp" x="686" y="1346.5"/>
<use href="#gp" x="699.2" y="1347"/>
<use href="#gp" x="675.2" y="1347"/>
<use href="#gp" x="688.5" y="1347.2"/>
<use href="#gp" x="681.8" y="1348.8"/>
<use href="#gp" x="695.2" y="1349.5"/>
<use href="#gp" x="678.4" y="1350"/>
<use href="#gp" x="691.8" y="1350"/>
<use href="#gp" x="685.1" y="1351.7"/>
<use href="#gp" x="698.3" y="1354.5"/>
<use href="#gp" x="677.1" y="1356.4"/>
<use href="#gp" x="690" y="1356.5"/>
<use href="#gp" x="683.6" y="1358.5"/>
<use href="#gp" x="696.3" y="1358.8"/>
<use href="#gp" x="680.5" y="1359.2"/>
<use href="#gp" x="693.1" y="1359.4"/>
<use href="#gp" x="686.8" y="1359.8"/>
<use href="#gp" x="699" y="1363.4"/>
<use href="#gp" x="674.9" y="1363.6"/>
<use href="#gp" x="687.1" y="1364.5"/>
<use href="#gp" x="681.1" y="1366.3"/>
<use href="#gp" x="693.1" y="1368.3"/>
<use href="#gp" x="677.7" y="1373.9"/>
<use href="#gp" x="690.3" y="1374.3"/>
<use href="#gp" x="683.9" y="1374.9"/>
<use href="#gp" x="697" y="1377.7"/>
<use href="#gp" x="675.4" y="1378.1"/>
<use href="#gp" x="688.8" y="1378.7"/>
<use href="#gp" x="682" y="1379.6"/>
<use href="#gp" x="695.8" y="1380.9"/>
<use href="#gp" x="678.3" y="1381.4"/>
<use href="#gp" x="692.5" y="1382.3"/>
<use href="#gp" x="685.3" y="1382.9"/>
<use href="#gp" x="700" y="1384.9"/>
<use href="#gp" x="673.3" y="1385.2"/>
<use href="#gp" x="688.1" y="1386.7"/>
<use href="#gp" x="680.5" y="1387.8"/>
<use href="#gp" x="695.7" y="1388.9"/>
<use href="#gp" x="676.7" y="1389.3"/>
<use href="#gp" x="691.9" y="1389.5"/>
<use href="#gp" x="684.3" y="1392.2"/>
<use href="#gp" x="699.5" y="1392.4"/>
<use href="#gp" x="674.8" y="1392.7"/>
<use href="#gp" x="690" y="1393.6"/>
<use href="#gp" x="682.4" y="1394"/>
<use href="#gp" x="697.5" y="1394.1"/>
<use href="#gp" x="678.6" y="1394.1"/>
<use href="#gp" x="693.7" y="1395.4"/>
<use href="#gp" x="686.2" y="1395.5"/>
<use href="#gp" x="701.1" y="1396"/>
<use href="#gp" x="672.7" y="1396.3"/>
<use href="#gp" x="687.6" y="1396.8"/>
<use href="#gp" x="680.2" y="1397"/>
<use href="#gp" x="694.9" y="1397.4"/>
<use href="#gp" x="677.3" y="1403.4"/>
<use href="#gp" x="690.9" y="1403.7"/>
<use href="#gp" x="684.2" y="1405.5"/>
<use href="#gp" x="697.3" y="1407.5"/>
<use href="#gp" x="676.2" y="1408.7"/>
<use href="#gp" x="689.1" y="1410"/>
<use href="#gp" x="682.7" y="1412"/>
<use href="#gp" x="695.6" y="1413.7"/>
<use href="#gp" x="679.4" y="1414.4"/>
<use href="#gp" x="692.5" y="1415.7"/>
<use href="#gp" x="685.9" y="1416.5"/>
<use href="#gp" x="699.2" y="1417.3"/>
<use href="#gp" x="674.8" y="1418.5"/>
<use href="#gp" x="688.4" y="1421.9"/>
<use href="#gp" x="681.3" y="1422"/>
<use href="#gp" x="695.7" y="1423"/>
<use href="#gp" x="677.2" y="1425.8"/>
<use href="#gp" x="692.3" y="1426.5"/>
<use href="#gp" x="684.7" y="1426.9"/>
<use href="#gp" x="700" y="1427"/>
<use href="#gp" x="675" y="1428.4"/>
<use href="#gp" x="690.5" y="1428.5"/>
<use href="#gp" x="682.7" y="1428.6"/>
<use href="#gp" x="698.3" y="1428.9"/>
<use href="#gp" x="678.8" y="1429.4"/>
<use href="#gp" x="694.6" y="1431.9"/>
<use href="#gp" x="686.6" y="1431.9"/>
<use href="#gp" x="702.7" y="1432.4"/>
<use href="#gp" x="671.2" y="1434.6"/>
<use href="#gp" x="687.4" y="1435.9"/>
<use href="#gp" x="679.3" y="1436.4"/>
<use href="#gp" x="695.5" y="1436.9"/>
<use href="#gp" x="675.2" y="1438.2"/>
<use href="#gp" x="691.4" y="1438.4"/>
<use href="#gp" x="683.3" y="1439.4"/>
<use href="#gp" x="699.4" y="1440.4"/>
<use href="#gp" x="673.4" y="1441"/>
<use href="#gp" x="689.4" y="1441.3"/>
<use href="#gp" x="681.4" y="1441.6"/>
<use href="#gp" x="697.4" y="1441.6"/>
<use href="#gp" x="677.4" y="1442.6"/>
<use href="#gp" x="693.3" y="1443.2"/>
<use href="#gp" x="685.4" y="1443.5"/>
<use href="#gp" x="701" y="1445.9"/>
<use href="#gp" x="672.8" y="1446.4"/>
<use href="#gp" x="688.3" y="1447.9"/>
<use href="#gp" x="680.6" y="1448.7"/>
<use href="#gp" x="696" y="1450.9"/>
<use href="#gp" x="676.7" y="1452.5"/>
<use href="#gp" x="692.3" y="1454.1"/>
<use href="#gp" x="684.4" y="1455.6"/>
<use href="#gp" x="700.6" y="1457.7"/>
<use href="#gp" x="674.1" y="1457.9"/>
<use href="#gp" x="690.6" y="1460.6"/>
<use href="#gp" x="682" y="1461.1"/>
<use href="#gp" x="699.4" y="1461.5"/>
<use href="#gp" x="677.2" y="1464.1"/>
<use href="#gp" x="695.5" y="1464.5"/>
<use href="#gp" x="686.3" y="1464.8"/>
<use href="#gp" x="704.8" y="1464.9"/>
<use href="#gp" x="669" y="1466.5"/>
<use href="#gp" x="688.1" y="1467.1"/>
<use href="#gp" x="678.4" y="1467.5"/>
<use href="#gp" x="697.8" y="1467.6"/>
<use href="#gp" x="673.5" y="1467.6"/>
<use href="#gp" x="693" y="1469"/>
<use href="#gp" x="683.1" y="1469.5"/>
<use href="#gp" x="703.3" y="1471.1"/>
<use href="#gp" x="670.3" y="1472"/>
<use href="#gp" x="690.7" y="1472.2"/>
<use href="#gp" x="680.5" y="1472.2"/>
<use href="#gp" x="700.9" y="1472.7"/>
<use href="#gp" x="675.3" y="1473.7"/>
<use href="#gp" x="695.9" y="1474"/>
<use href="#gp" x="685.5" y="1475.5"/>
<use href="#gp" x="706.2" y="1476"/>
<use href="#gp" x="668.8" y="1476"/>
<use href="#gp" x="689.4" y="1476"/>
<use href="#gp" x="679.1" y="1476.5"/>
<use href="#gp" x="699.7" y="1476.6"/>
<use href="#gp" x="674" y="1476.7"/>
<use href="#gp" x="694.5" y="1478.7"/>
<use href="#gp" x="684.3" y="1478.7"/>
<use href="#gp" x="704.6" y="1479.2"/>
<use href="#gp" x="671.6" y="1479.2"/>
<use href="#gp" x="691.9" y="1479.5"/>
<use href="#gp" x="681.9" y="1481.6"/>
<use href="#gp" x="701.7" y="1481.6"/>
<use href="#gp" x="677.2" y="1483"/>
<use href="#gp" x="696.5" y="1483.5"/>
<use href="#gp" x="686.8" y="1483.5"/>
<use href="#gp" x="706" y="1483.7"/>
<use href="#gp" x="668" y="1484"/>
<use href="#gp" x="687.1" y="1485.6"/>
<use href="#gp" x="677.8" y="1485.7"/>
<use href="#gp" x="696.3" y="1486.1"/>
<use href="#gp" x="673.5" y="1487.2"/>
<use href="#gp" x="691.6" y="1487.3"/>
<use href="#gp" x="682.7" y="1488.7"/>
<use href="#gp" x="700" y="1490.6"/>
<use href="#gp" x="672.4" y="1493.2"/>
<use href="#gp" x="689.2" y="1498.1"/>
<use href="#gp" x="680.7" y="1498.7"/>
<use href="#gp" x="697.9" y="1500.2"/>
<use href="#gp" x="675.8" y="1502.5"/>
<use href="#gp" x="693.9" y="1502.7"/>
<use href="#gp" x="684.8" y="1503.2"/>
<use href="#gp" x="703.1" y="1503.3"/>
<use href="#gp" x="669.4" y="1504.7"/>
<use href="#gp" x="688.3" y="1505.1"/>
<use href="#gp" x="678.7" y="1505.2"/>
<use href="#gp" x="698.1" y="1506.8"/>
<use href="#gp" x="673.5" y="1507.1"/>
<use href="#gp" x="693.4" y="1507.9"/>
<use href="#gp" x="683.3" y="1508.7"/>
<use href="#gp" x="704" y="1509.9"/>
<use href="#gp" x="669.9" y="1510.8"/>
<use href="#gp" x="691" y="1510.8"/>
<use href="#gp" x="680.4" y="1511.7"/>
<use href="#gp" x="701.8" y="1511.7"/>
<use href="#gp" x="674.8" y="1513.2"/>
<use href="#gp" x="696.8" y="1514.3"/>
<use href="#gp" x="685.7" y="1514.4"/>
<use href="#gp" x="707.9" y="1514.6"/>
<use href="#gp" x="665.6" y="1514.7"/>
<use href="#gp" x="687.8" y="1515.2"/>
<use href="#gp" x="676.6" y="1515.7"/>
<use href="#gp" x="699" y="1516.2"/>
<use href="#gp" x="671" y="1516.3"/>
<use href="#gp" x="693.4" y="1516.4"/>
<use href="#gp" x="682.2" y="1517.3"/>
<use href="#gp" x="704.7" y="1517.8"/>
<use href="#gp" x="668.1" y="1518.3"/>
<use href="#gp" x="690.6" y="1518.6"/>
<use href="#gp" x="679.4" y="1520.1"/>
<use href="#gp" x="701.8" y="1520.2"/>
<use href="#gp" x="673.8" y="1520.8"/>
<use href="#gp" x="696.2" y="1520.8"/>
<use href="#gp" x="685" y="1521.2"/>
<use href="#gp" x="707.3" y="1521.2"/>
<use href="#gp" x="666.9" y="1521.3"/>
<use href="#gp" x="689.1" y="1523.1"/>
<use href="#gp" x="678.2" y="1523.2"/>
<use href="#gp" x="699.8" y="1525"/>
<use href="#gp" x="673.3" y="1526.3"/>
<use href="#gp" x="694.2" y="1527.2"/>
<use href="#gp" x="683.9" y="1527.6"/>
<use href="#gp" x="704.3" y="1527.8"/>
<use href="#gp" x="671.2" y="1527.8"/>
<use href="#gp" x="691.5" y="1528.3"/>
<use href="#gp" x="681.6" y="1529.8"/>
<use href="#gp" x="701" y="1530.2"/>
<use href="#gp" x="676.8" y="1530.3"/>
<use href="#gp" x="696.1" y="1530.6"/>
<use href="#gp" x="686.5" y="1532.3"/>
<use href="#gp" x="704.8" y="1532.5"/>
<use href="#gp" x="669" y="1532.5"/>
<use href="#gp" x="687.4" y="1533.3"/>
<use href="#gp" x="678.6" y="1534.7"/>
<use href="#gp" x="695.8" y="1535.9"/>
<use href="#gp" x="674.7" y="1536.3"/>
<use href="#gp" x="691.3" y="1539.4"/>
<use href="#gp" x="683.5" y="1541.9"/>
<use href="#gp" x="698.6" y="1542.3"/>
<use href="#gp" x="674.3" y="1544.3"/>
<use href="#gp" x="689.1" y="1546.9"/>
<use href="#gp" x="681.8" y="1550.3"/>
<use href="#gp" x="696.5" y="1550.9"/>
<use href="#gp" x="678.1" y="1550.9"/>
<use href="#gp" x="692.8" y="1551.4"/>
<use href="#gp" x="685.4" y="1553.3"/>
<use href="#gp" x="700.2" y="1553.4"/>
<use href="#gp" x="673.5" y="1553.8"/>
<use href="#gp" x="688.2" y="1554.1"/>
<use href="#gp" x="680.9" y="1555.4"/>
<use href="#gp" x="695.5" y="1556"/>
<use href="#gp" x="677.2" y="1556.2"/>
<use href="#gp" x="691.8" y="1557.9"/>
<use href="#gp" x="684.5" y="1557.9"/>
<use href="#gp" x="699.1" y="1558.4"/>
<use href="#gp" x="675.5" y="1558.9"/>
<use href="#gp" x="690" y="1560.8"/>
<use href="#gp" x="682.8" y="1560.9"/>
<use href="#gp" x="697" y="1561.6"/>
<use href="#gp" x="679.4" y="1562.4"/>
<use href="#gp" x="693.4" y="1562.7"/>
<use href="#gp" x="686.4" y="1563.4"/>
<use href="#gp" x="699.9" y="1564.9"/>
<use href="#gp" x="830" y="942.1"/>
<use href="#gp" x="829.7" y="965.4"/>
<use href="#gp" x="830.4" y="995.1"/>
<use href="#gp" x="829.2" y="1006.5"/>
<use href="#gp" x="830.2" y="1020.5"/>
<use href="#gp" x="829.8" y="1043.2"/>
<use href="#gp" x="830.4" y="1073.2"/>
<use href="#gp" x="828.6" y="1118.6"/>
<use href="#gp" x="830.2" y="1118.6"/>
<use href="#gp" x="829.4" y="1119"/>
<use href="#gp" x="830.8" y="1142.3"/>
<use href="#gp" x="828.9" y="1151"/>
<use href="#gp" x="831" y="1163.2"/>
<use href="#gp" x="829.6" y="1167.4"/>
<use href="#gp" x="833.1" y="1172"/>
<use href="#gp" x="826.5" y="1174.3"/>
<use href="#gp" x="830.2" y="1177.4"/>
<use href="#gp" x="828.2" y="1181.5"/>
<use href="#gp" x="832.3" y="1183.4"/>
<use href="#gp" x="827.1" y="1186.5"/>
<use href="#gp" x="831.5" y="1194.6"/>
<use href="#gp" x="829.1" y="1197.4"/>
<use href="#gp" x="834.2" y="1200.7"/>
<use href="#gp" x="825.5" y="1204"/>
<use href="#gp" x="831" y="1204.1"/>
<use href="#gp" x="828.1" y="1207.5"/>
<use href="#gp" x="834.1" y="1207.5"/>
<use href="#gp" x="826.2" y="1215.4"/>
<use href="#gp" x="833" y="1215.4"/>
<use href="#gp" x="829.6" y="1216.3"/>
<use href="#gp" x="836.7" y="1220"/>
<use href="#gp" x="823.1" y="1220.7"/>
<use href="#gp" x="830.2" y="1220.7"/>
<use href="#gp" x="826.5" y="1226.7"/>
<use href="#gp" x="834" y="1227.6"/>
<use href="#gp" x="824.6" y="1229.4"/>
<use href="#gp" x="832.1" y="1230.4"/>
<use href="#gp" x="828.4" y="1230.8"/>
<use href="#gp" x="835.9" y="1230.8"/>
<use href="#gp" x="823.8" y="1238"/>
<use href="#gp" x="831.2" y="1238"/>
<use href="#gp" x="827.5" y="1241.6"/>
<use href="#gp" x="834.8" y="1241.8"/>
<use href="#gp" x="825.7" y="1244"/>
<use href="#gp" x="832.9" y="1244"/>
<use href="#gp" x="829.3" y="1250.1"/>
<use href="#gp" x="836.4" y="1250.2"/>
<use href="#gp" x="823.6" y="1252.1"/>
<use href="#gp" x="830.7" y="1255.8"/>
<use href="#gp" x="827.1" y="1257.4"/>
<use href="#gp" x="834.3" y="1260.5"/>
<use href="#gp" x="825.2" y="1260.5"/>
<use href="#gp" x="832.6" y="1264.3"/>
<use href="#gp" x="828.7" y="1269.6"/>
<use href="#gp" x="837" y="1269.6"/>
<use href="#gp" x="823.2" y="1271.9"/>
<use href="#gp" x="831.9" y="1271.9"/>
<use href="#gp" x="827.5" y="1273.7"/>
<use href="#gp" x="836.5" y="1273.7"/>
<use href="#gp" x="824.8" y="1278.4"/>
<use href="#gp" x="834.8" y="1280.6"/>
<use href="#gp" x="829.7" y="1280.9"/>
<use href="#gp" x="840" y="1282.1"/>
<use href="#gp" x="819.5" y="1285.1"/>
<use href="#gp" x="830.2" y="1285.1"/>
<use href="#gp" x="824.8" y="1285.9"/>
<use href="#gp" x="835.5" y="1285.9"/>
<use href="#gp" x="822.1" y="1286.9"/>
<use href="#gp" x="832.9" y="1286.9"/>
<use href="#gp" x="827.4" y="1292.1"/>
<use href="#gp" x="838.4" y="1292.9"/>
<use href="#gp" x="820.6" y="1292.9"/>
<use href="#gp" x="831.5" y="1294.3"/>
<use href="#gp" x="826.1" y="1295.4"/>
<use href="#gp" x="837" y="1295.4"/>
<use href="#gp" x="823.5" y="1299.1"/>
<use href="#gp" x="834.1" y="1299.1"/>
<use href="#gp" x="828.9" y="1300"/>
<use href="#gp" x="839.4" y="1300"/>
<use href="#gp" x="820.6" y="1303.4"/>
<use href="#gp" x="830.8" y="1304.1"/>
<use href="#gp" x="825.9" y="1308.5"/>
<use href="#gp" x="835.7" y="1308.6"/>
<use href="#gp" x="823.4" y="1308.6"/>
<use href="#gp" x="833.2" y="1310.4"/>
<use href="#gp" x="828.3" y="1312.9"/>
<use href="#gp" x="838.1" y="1315.4"/>
<use href="#gp" x="821.7" y="1321.7"/>
<use href="#gp" x="832.1" y="1321.7"/>
<use href="#gp" x="826.9" y="1321.7"/>
<use href="#gp" x="837.4" y="1322.6"/>
<use href="#gp" x="824.3" y="1322.6"/>
<use href="#gp" x="835" y="1326.1"/>
<use href="#gp" x="829.5" y="1326.7"/>
<use href="#gp" x="840.7" y="1327.4"/>
<use href="#gp" x="819.3" y="1327.4"/>
<use href="#gp" x="830.5" y="1330.2"/>
<use href="#gp" x="824.5" y="1333.9"/>
<use href="#gp" x="836.6" y="1334"/>
<use href="#gp" x="821.5" y="1334"/>
<use href="#gp" x="833.7" y="1335.8"/>
<use href="#gp" x="827.5" y="1336.2"/>
<use href="#gp" x="840" y="1338.6"/>
<use href="#gp" x="819.6" y="1338.6"/>
<use href="#gp" x="832.2" y="1339.7"/>
<use href="#gp" x="825.9" y="1339.7"/>
<use href="#gp" x="838.5" y="1340.2"/>
<use href="#gp" x="822.7" y="1344.2"/>
<use href="#gp" x="835.4" y="1344.3"/>
<use href="#gp" x="829" y="1345.1"/>
<use href="#gp" x="841.7" y="1345.2"/>
<use href="#gp" x="818.8" y="1348"/>
<use href="#gp" x="831.4" y="1348"/>
<use href="#gp" x="825.1" y="1349.4"/>
<use href="#gp" x="837.5" y="1351.8"/>
<use href="#gp" x="822.2" y="1351.8"/>
<use href="#gp" x="834.3" y="1353.8"/>
<use href="#gp" x="828.3" y="1353.8"/>
<use href="#gp" x="840.1" y="1356.4"/>
<use href="#gp" x="821" y="1356.5"/>
<use href="#gp" x="832.7" y="1356.5"/>
<use href="#gp" x="826.9" y="1358.3"/>
<use href="#gp" x="838.4" y="1358.4"/>
<use href="#gp" x="824.1" y="1359.3"/>
<use href="#gp" x="835.4" y="1363.5"/>
<use href="#gp" x="829.8" y="1365.9"/>
<use href="#gp" x="840.9" y="1367.8"/>
<use href="#gp" x="818.8" y="1370.5"/>
<use href="#gp" x="830.1" y="1370.6"/>
<use href="#gp" x="824.4" y="1370.6"/>
<use href="#gp" x="835.8" y="1371.5"/>
<use href="#gp" x="820.9" y="1376.2"/>
<use href="#gp" x="833.2" y="1377.3"/>
<use href="#gp" x="826.9" y="1379.1"/>
<use href="#gp" x="840.1" y="1381"/>
<use href="#gp" x="818.2" y="1381.8"/>
<use href="#gp" x="831.8" y="1381.9"/>
<use href="#gp" x="824.9" y="1383.9"/>
<use href="#gp" x="838.9" y="1383.9"/>
<use href="#gp" x="821.3" y="1383.9"/>
<use href="#gp" x="835.4" y="1383.9"/>
<use href="#gp" x="828.3" y="1388.5"/>
<use href="#gp" x="843.1" y="1388.5"/>
<use href="#gp" x="816.2" y="1388.6"/>
<use href="#gp" x="831" y="1389"/>
<use href="#gp" x="823.6" y="1389"/>
<use href="#gp" x="838.5" y="1390.4"/>
<use href="#gp" x="819.8" y="1390.5"/>
<use href="#gp" x="834.8" y="1391.3"/>
<use href="#gp" x="827.3" y="1392.2"/>
<use href="#gp" x="842.4" y="1393.2"/>
<use href="#gp" x="817.8" y="1393.2"/>
<use href="#gp" x="832.9" y="1397.1"/>
<use href="#gp" x="825.4" y="1397.1"/>
<use href="#gp" x="840.4" y="1397.1"/>
<use href="#gp" x="821.7" y="1397.1"/>
<use href="#gp" x="836.5" y="1400.7"/>
<use href="#gp" x="829.2" y="1400.7"/>
<use href="#gp" x="843.6" y="1402.6"/>
<use href="#gp" x="816.2" y="1402.6"/>
<use href="#gp" x="830.6" y="1403.5"/>
<use href="#gp" x="823.4" y="1403.5"/>
<use href="#gp" x="837.6" y="1404.5"/>
<use href="#gp" x="820" y="1404.5"/>
<use href="#gp" x="834.1" y="1404.6"/>
<use href="#gp" x="827.3" y="1412"/>
<use href="#gp" x="840.2" y="1412.3"/>
<use href="#gp" x="819.2" y="1412.3"/>
<use href="#gp" x="832.1" y="1413"/>
<use href="#gp" x="825.7" y="1414"/>
<use href="#gp" x="838.4" y="1414.8"/>
<use href="#gp" x="822.6" y="1414.8"/>
<use href="#gp" x="835.2" y="1415.7"/>
<use href="#gp" x="828.9" y="1416.7"/>
<use href="#gp" x="841.3" y="1418.6"/>
<use href="#gp" x="818.8" y="1423.2"/>
<use href="#gp" x="831.3" y="1424.3"/>
<use href="#gp" x="824.9" y="1425.2"/>
<use href="#gp" x="837.8" y="1427"/>
<use href="#gp" x="821.6" y="1427.1"/>
<use href="#gp" x="834.7" y="1429.9"/>
<use href="#gp" x="827.9" y="1432.7"/>
<use href="#gp" x="842" y="1432.7"/>
<use href="#gp" x="818.9" y="1433.8"/>
<use href="#gp" x="833.3" y="1433.8"/>
<use href="#gp" x="826" y="1434.3"/>
<use href="#gp" x="840.6" y="1434.5"/>
<use href="#gp" x="822.2" y="1435.6"/>
<use href="#gp" x="837.2" y="1436.5"/>
<use href="#gp" x="829.6" y="1439.4"/>
<use href="#gp" x="845.9" y="1441.3"/>
<use href="#gp" x="814" y="1442"/>
<use href="#gp" x="830.4" y="1442"/>
<use href="#gp" x="822" y="1444"/>
<use href="#gp" x="839" y="1445.9"/>
<use href="#gp" x="817.5" y="1445.9"/>
<use href="#gp" x="834.7" y="1446"/>
<use href="#gp" x="826.1" y="1446"/>
<use href="#gp" x="843.3" y="1446"/>
<use href="#gp" x="815.3" y="1446"/>
<use href="#gp" x="832.6" y="1446.8"/>
<use href="#gp" x="823.9" y="1446.8"/>
<use href="#gp" x="841.2" y="1446.8"/>
<use href="#gp" x="819.6" y="1446.8"/>
<use href="#gp" x="837" y="1447.8"/>
<use href="#gp" x="828.2" y="1450.6"/>
<use href="#gp" x="846.2" y="1453.4"/>
<use href="#gp" x="813.5" y="1453.4"/>
<use href="#gp" x="831.6" y="1457.2"/>
<use href="#gp" x="822.4" y="1457.3"/>
<use href="#gp" x="840.7" y="1457.3"/>
<use href="#gp" x="817.9" y="1457.6"/>
<use href="#gp" x="836.1" y="1459.1"/>
<use href="#gp" x="827" y="1459.1"/>
<use href="#gp" x="845.3" y="1459.1"/>
<use href="#gp" x="815.6" y="1460"/>
<use href="#gp" x="833.8" y="1460"/>
<use href="#gp" x="824.7" y="1460"/>
<use href="#gp" x="843" y="1460"/>
<use href="#gp" x="820.2" y="1461.9"/>
<use href="#gp" x="838.4" y="1463.7"/>
<use href="#gp" x="829.3" y="1463.7"/>
<use href="#gp" x="847.4" y="1464.3"/>
<use href="#gp" x="813.1" y="1467.4"/>
<use href="#gp" x="831" y="1467.4"/>
<use href="#gp" x="822" y="1468.5"/>
<use href="#gp" x="839.9" y="1468.5"/>
<use href="#gp" x="817.6" y="1469.5"/>
<use href="#gp" x="835.4" y="1469.5"/>
<use href="#gp" x="826.5" y="1471.3"/>
<use href="#gp" x="844.2" y="1471.3"/>
<use href="#gp" x="815.6" y="1473.2"/>
<use href="#gp" x="833.2" y="1473.2"/>
<use href="#gp" x="824.4" y="1473.2"/>
<use href="#gp" x="842" y="1473.2"/>
<use href="#gp" x="820" y="1476.9"/>
<use href="#gp" x="837.5" y="1476.9"/>
<use href="#gp" x="828.8" y="1479.8"/>
<use href="#gp" x="846.3" y="1479.8"/>
<use href="#gp" x="814.5" y="1480.8"/>
<use href="#gp" x="832.1" y="1480.8"/>
<use href="#gp" x="823.3" y="1482.6"/>
<use href="#gp" x="840.9" y="1482.7"/>
<use href="#gp" x="818.8" y="1482.7"/>
<use href="#gp" x="836.6" y="1485.4"/>
<use href="#gp" x="827.6" y="1487"/>
<use href="#gp" x="845.7" y="1487.3"/>
<use href="#gp" x="816.2" y="1487.6"/>
<use href="#gp" x="834.5" y="1489.3"/>
<use href="#gp" x="825.3" y="1489.3"/>
<use href="#gp" x="843.8" y="1490"/>
<use href="#gp" x="820.6" y="1490"/>
<use href="#gp" x="839.3" y="1492.1"/>
<use href="#gp" x="829.9" y="1492.1"/>
<use href="#gp" x="849.1" y="1493.9"/>
<use href="#gp" x="810.8" y="1493.9"/>
<use href="#gp" x="830.1" y="1494.8"/>
<use href="#gp" x="820.3" y="1494.8"/>
<use href="#gp" x="839.9" y="1495.7"/>
<use href="#gp" x="815.3" y="1495.7"/>
<use href="#gp" x="835.1" y="1496.7"/>
<use href="#gp" x="825" y="1498.7"/>
<use href="#gp" x="845.8" y="1501"/>
<use href="#gp" x="811.4" y="1502.5"/>
<use href="#gp" x="832.7" y="1502.5"/>
<use href="#gp" x="822" y="1503.3"/>
<use href="#gp" x="843.5" y="1503.3"/>
<use href="#gp" x="816.6" y="1503.3"/>
<use href="#gp" x="838.1" y="1503.3"/>
<use href="#gp" x="827.3" y="1505.2"/>
<use href="#gp" x="849.3" y="1505.2"/>
<use href="#gp" x="809.4" y="1506.1"/>
<use href="#gp" x="831.5" y="1507"/>
<use href="#gp" x="820.3" y="1508"/>
<use href="#gp" x="842.7" y="1508"/>
<use href="#gp" x="814.6" y="1508.9"/>
<use href="#gp" x="837.1" y="1508.9"/>
<use href="#gp" x="825.9" y="1508.9"/>
<use href="#gp" x="848.4" y="1508.9"/>
<use href="#gp" x="811.6" y="1509.9"/>
<use href="#gp" x="834.4" y="1510.3"/>
<use href="#gp" x="822.9" y="1512.4"/>
<use href="#gp" x="845.9" y="1512.7"/>
<use href="#gp" x="817.2" y="1515.6"/>
<use href="#gp" x="840.2" y="1515.6"/>
<use href="#gp" x="828.7" y="1516.5"/>
<use href="#gp" x="851.6" y="1516.5"/>
<use href="#gp" x="807.8" y="1516.5"/>
<use href="#gp" x="830.8" y="1516.5"/>
<use href="#gp" x="819.3" y="1516.6"/>
<use href="#gp" x="842.3" y="1516.6"/>
<use href="#gp" x="813.6" y="1517.3"/>
<use href="#gp" x="836.5" y="1517.3"/>
<use href="#gp" x="825.1" y="1519.3"/>
<use href="#gp" x="847.7" y="1520.1"/>
<use href="#gp" x="811" y="1520.1"/>
<use href="#gp" x="833.6" y="1520.2"/>
<use href="#gp" x="822.4" y="1521.1"/>
<use href="#gp" x="844.8" y="1521.1"/>
<use href="#gp" x="816.8" y="1521.1"/>
<use href="#gp" x="839.1" y="1522.1"/>
<use href="#gp" x="828" y="1522.1"/>
<use href="#gp" x="850.3" y="1522.1"/>
<use href="#gp" x="809.9" y="1522.1"/>
<use href="#gp" x="832.1" y="1524.3"/>
<use href="#gp" x="821.6" y="1528.6"/>
<use href="#gp" x="842.5" y="1528.7"/>
<use href="#gp" x="816.4" y="1528.7"/>
<use href="#gp" x="837.3" y="1528.7"/>
<use href="#gp" x="826.9" y="1530.6"/>
<use href="#gp" x="847.2" y="1531.5"/>
<use href="#gp" x="814.3" y="1531.6"/>
<use href="#gp" x="834.5" y="1531.6"/>
<use href="#gp" x="824.5" y="1533.4"/>
<use href="#gp" x="844.4" y="1533.4"/>
<use href="#gp" x="819.7" y="1535.3"/>
<use href="#gp" x="839.2" y="1535.3"/>
<use href="#gp" x="829.5" y="1535.4"/>
<use href="#gp" x="848.9" y="1535.7"/>
<use href="#gp" x="811.3" y="1538.1"/>
<use href="#gp" x="830.4" y="1539.1"/>
<use href="#gp" x="821" y="1540"/>
<use href="#gp" x="839.6" y="1541.9"/>
<use href="#gp" x="816.5" y="1542.1"/>
<use href="#gp" x="834.9" y="1542.7"/>
<use href="#gp" x="825.8" y="1542.7"/>
<use href="#gp" x="844.1" y="1542.8"/>
<use href="#gp" x="814.3" y="1542.8"/>
<use href="#gp" x="832.7" y="1542.8"/>
<use href="#gp" x="823.6" y="1544.6"/>
<use href="#gp" x="840.7" y="1551.3"/>
<use href="#gp" x="819.9" y="1551.3"/>
<use href="#gp" x="836.5" y="1551.4"/>
<use href="#gp" x="828.3" y="1552.2"/>
<use href="#gp" x="844.6" y="1552.2"/>
<use href="#gp" x="815" y="1552.2"/>
<use href="#gp" x="831.3" y="1552.2"/>
<use href="#gp" x="823.2" y="1552.2"/>
<use href="#gp" x="839.4" y="1553.2"/>
<use href="#gp" x="819.3" y="1553.2"/>
<use href="#gp" x="835.3" y="1553.2"/>
<use href="#gp" x="827.3" y="1554"/>
<use href="#gp" x="843.1" y="1554.1"/>
<use href="#gp" x="817.5" y="1554.1"/>
<use href="#gp" x="833.3" y="1554.1"/>
<use href="#gp" x="825.4" y="1554.1"/>
<use href="#gp" x="840.7" y="1555.9"/>
<use href="#gp" x="823.5" y="1565.4"/>
<use href="#gp" x="835.5" y="1565.4"/>
<use href="#gp" x="829.5" y="1565.4"/>
<use href="#gp" x="841.4" y="1565.4"/>
<use href="#pp" x="235.2" y="1368"/>
<use href="#pp" x="238.5" y="1421.2"/>
<use href="#pp" x="220.4" y="1490.5"/>
<use href="#pp" x="224.2" y="1502.4"/>
<use href="#pp" x="236.6" y="1505.3"/>
<use href="#pp" x="248.9" y="1496.7"/>
<use href="#pp" x="387.4" y="1371.2"/>
<use href="#pp" x="395.7" y="1398.2"/>
<use href="#pp" x="380.9" y="1438.5"/>
<use href="#pp" x="401.6" y="1481.5"/>
<use href="#pp" x="379.1" y="1501.6"/>
<use href="#pp" x="391.5" y="1522.3"/>
<use href="#pp" x="741.7" y="1206.1"/>
<use href="#pp" x="748.7" y="1317.1"/>
<use href="#pp" x="732.4" y="1361.1"/>
<use href="#pp" x="733" y="1481.4"/>
<use href="#pp" x="755.9" y="1479.2"/>
<use href="#pp" x="744.3" y="1557"/>
<use href="#pp" x="885.1" y="1466.8"/>
<use href="#pp" x="891.3" y="1489.7"/>
<use href="#pp" x="876.4" y="1499.1"/>
<use href="#pp" x="876" y="1542.3"/>
<use href="#pp" x="898.5" y="1539.8"/>
<use href="#pp" x="887.3" y="1551.8"/>
<rect x="98.5" y="1668.2" width="747.3" height="121.6" fill="#fff" stroke="#666262" stroke-width="3"/>
<text x="471.5" y="1712.6" text-anchor="middle" font-size="42.3" fill="#000">Comparison</text>
<circle cx="128.2" cy="1746.7" r="15" fill="#b4b4b4"/>
<text x="159.4" y="1761.9" font-size="37.43" fill="#000">Between subjects</text>
<circle cx="550.2" cy="1750.8" r="15" fill="#cc66cc"/>
<text x="580.5" y="1765.5" font-size="37.6" fill="#000">Within subjects</text>
</svg></body></html>
